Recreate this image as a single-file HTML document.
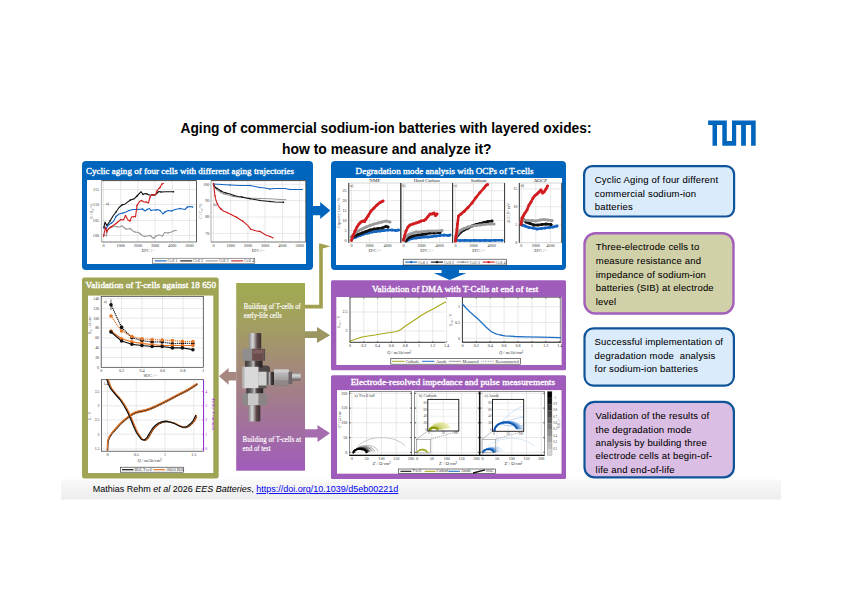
<!DOCTYPE html>
<html><head><meta charset="utf-8">
<style>
html,body{margin:0;padding:0;background:#fff;}
body{width:842px;height:595px;overflow:hidden;position:relative;font-family:"Liberation Sans",sans-serif;}
svg{position:absolute;left:0;top:0;}
.tt{font-family:"Liberation Serif",serif;font-weight:normal;fill:#fff;stroke:#fff;stroke-width:0.35px;}
.bx{font-family:"Liberation Sans",sans-serif;font-size:9.5px;fill:#000;letter-spacing:0.18px;stroke:#000;stroke-width:0.06px;}
</style></head><body>
<svg width="842" height="595" viewBox="0 0 842 595">
<defs>
<linearGradient id="foot" x1="0" y1="0" x2="0" y2="1"><stop offset="0" stop-color="#f9f9f9"/><stop offset="1" stop-color="#ededed"/></linearGradient>
<linearGradient id="mid" x1="0" y1="0" x2="0" y2="1"><stop offset="0" stop-color="#a1ab4e"/><stop offset="0.22" stop-color="#a29f61"/><stop offset="0.45" stop-color="#a38a79"/><stop offset="0.7" stop-color="#a27596"/><stop offset="1" stop-color="#a05cbb"/></linearGradient>
<linearGradient id="steelV" x1="0" y1="0" x2="1" y2="0"><stop offset="0" stop-color="#6d6a68"/><stop offset="0.25" stop-color="#d9d9d9"/><stop offset="0.5" stop-color="#f2f2f2"/><stop offset="0.8" stop-color="#8a8583"/><stop offset="1" stop-color="#3d3a3a"/></linearGradient>
<linearGradient id="steelH" x1="0" y1="0" x2="0" y2="1"><stop offset="0" stop-color="#6d6a68"/><stop offset="0.3" stop-color="#dcdcdc"/><stop offset="0.55" stop-color="#efefef"/><stop offset="0.85" stop-color="#858080"/><stop offset="1" stop-color="#3d3a3a"/></linearGradient>
<linearGradient id="nutV" x1="0" y1="0" x2="1" y2="0"><stop offset="0" stop-color="#5a5656"/><stop offset="0.15" stop-color="#bdbdbd"/><stop offset="0.45" stop-color="#d8d8d8"/><stop offset="0.55" stop-color="#7a6c6c"/><stop offset="0.85" stop-color="#9a8a8a"/><stop offset="1" stop-color="#3e3838"/></linearGradient>
<linearGradient id="cbar" x1="0" y1="0" x2="0" y2="1"><stop offset="0" stop-color="#000"/><stop offset="1" stop-color="#d8d8d8"/></linearGradient>
</defs>

<rect x="61.1" y="479.5" width="720" height="20.1" fill="url(#foot)"/>
<text x="386" y="132.8" text-anchor="middle" font-family="Liberation Sans" font-weight="bold" font-size="13.8" fill="#000" textLength="411" lengthAdjust="spacingAndGlyphs">Aging of commercial sodium-ion batteries with layered oxides:</text>
<text x="386.8" y="153.5" text-anchor="middle" font-family="Liberation Sans" font-weight="bold" font-size="13.8" fill="#000" textLength="209.6" lengthAdjust="spacingAndGlyphs">how to measure and analyze it?</text>
<path fill="#0065BD" d="M708.1,120.4H726.8V140.9H732V120.4H755.7V145.7H751.1V125.1H745.9V145.7H741.1V125.1H736.2V145.7H722.3V125.1H717V145.7H712.5V125.1H708.1Z"/>
<rect x="82" y="161" width="231" height="109" rx="4" fill="#0065BD"/>
<rect x="87" y="180" width="219" height="84" fill="#fff"/>
<text class="tt" x="86" y="173.5" font-size="8.9" textLength="208" lengthAdjust="spacingAndGlyphs">Cyclic aging of four cells with different aging trajectories</text>
<path fill="#0065BD" d="M313,206H320.2V202L330.3,210.6L320.2,219V215.2H313Z"/>
<rect x="331" y="161" width="235" height="109" rx="4" fill="#0065BD"/>
<rect x="336" y="178" width="226" height="87" fill="#fff"/>
<text class="tt" x="355.6" y="173.8" font-size="8.9" textLength="178" lengthAdjust="spacingAndGlyphs">Degradation mode analysis with OCPs of T-cells</text>
<path fill="#0065BD" d="M441.6,269H459V273H466.5L449.6,280L433.8,273H441.6Z"/>
<rect x="331" y="280.2" width="235" height="90" rx="1.5" fill="#A05CBA"/>
<rect x="336.3" y="297" width="225.3" height="68" fill="#fff"/>
<text class="tt" x="371.9" y="291.6" font-size="8.9" textLength="166.5" lengthAdjust="spacingAndGlyphs">Validation of DMA with T-Cells at end of test</text>
<rect x="331" y="375.3" width="235" height="103.6" rx="1.5" fill="#A05CBA"/>
<rect x="337" y="390.1" width="224.5" height="83.6" fill="#fff"/>
<text class="tt" x="350.7" y="384.6" font-size="8.9" textLength="204.3" lengthAdjust="spacingAndGlyphs">Electrode-resolved impedance and pulse measurements</text>
<rect x="82" y="277.4" width="136.7" height="201.2" rx="2.5" fill="#A0A556"/>
<rect x="88" y="295.6" width="125.3" height="177.4" fill="#fff"/>
<text class="tt" x="85.6" y="288" font-size="8.9" textLength="130.4" lengthAdjust="spacingAndGlyphs">Validation of T-cells against 18 650</text>
<rect x="236.2" y="283" width="68.8" height="187.7" fill="url(#mid)"/>
<text x="243.8" y="308.5" font-family="Liberation Serif" font-size="7.2" fill="#fff" stroke="#fff" stroke-width="0.15" textLength="57" lengthAdjust="spacingAndGlyphs">Building of T-cells of</text>
<text x="243.8" y="318.0" font-family="Liberation Serif" font-size="7.2" fill="#fff" stroke="#fff" stroke-width="0.15" textLength="38" lengthAdjust="spacingAndGlyphs">early-life cells</text>
<text x="242.6" y="442.2" font-family="Liberation Serif" font-size="7.2" fill="#fff" stroke="#fff" stroke-width="0.15" textLength="58.5" lengthAdjust="spacingAndGlyphs">Building of  T-cells at</text>
<text x="242.6" y="451.0" font-family="Liberation Serif" font-size="7.2" fill="#fff" stroke="#fff" stroke-width="0.15" textLength="28" lengthAdjust="spacingAndGlyphs">end of test</text>
<path fill="none" stroke="#A0A04E" stroke-width="3.6" d="M305,306.6H321V246.3H323"/>
<path fill="#A0A04E" d="M319.2,243.3L330.5,246.3L319.2,249.6Z"/>
<path fill="#9C9662" d="M305,331.3H317V327.1L330.1,335.3L317,342.9V338.1H305Z"/>
<path fill="#A66DAE" d="M305,429.3H317.5V424.9L330,433.2L317.5,442V437.5H305Z"/>
<path fill="#A68880" d="M236.2,372.1H228.6V368.1L219,376.3L228.6,384.7V380.4H236.2Z"/>
<rect x="584.1" y="166.2" width="150" height="50.3" rx="8" fill="#DAEBFB" stroke="#0F5499" stroke-width="2.2"/>
<rect x="584.5" y="233.2" width="149" height="80.3" rx="11" fill="#D1D1A9" stroke="#A35FBC" stroke-width="2.4"/>
<rect x="584.5" y="328.4" width="149.4" height="57.2" rx="9" fill="#DAEBFB" stroke="#0F5499" stroke-width="2.2"/>
<rect x="584.5" y="401.8" width="149.4" height="75.5" rx="10" fill="#DBBEE3" stroke="#0F5499" stroke-width="2.2"/>
<text class="bx" x="594.8" y="183.2" >Cyclic Aging of four different</text>
<text class="bx" x="594.8" y="196.7" >commercial sodium-ion</text>
<text class="bx" x="594.8" y="209.5" >batteries</text>
<text class="bx" x="595.8" y="249.6" >Three-electrode cells to</text>
<text class="bx" x="595.8" y="263.8" >measure resistance and</text>
<text class="bx" x="595.8" y="277.5" >impedance of sodium-ion</text>
<text class="bx" x="595.8" y="291" >batteries (SIB) at electrode</text>
<text class="bx" x="595.8" y="304.7" >level</text>
<text class="bx" x="594.6" y="344.6" >Successful implementation of</text>
<text class="bx" x="594.6" y="358.8" >degradation mode&#160; analysis</text>
<text class="bx" x="594.6" y="371.5" >for sodium-ion batteries</text>
<text class="bx" x="595.6" y="418.6" >Validation of the results of</text>
<text class="bx" x="595.6" y="432.8" >the degradation mode</text>
<text class="bx" x="595.6" y="445.5" >analysis by building three</text>
<text class="bx" x="595.6" y="459.2" >electrode cells at begin-of-</text>
<text class="bx" x="595.6" y="473.3" >life and end-of-life</text>
<text x="92.8" y="492.1" font-size="9.3" font-family="Liberation Sans" fill="#000" textLength="305.5" lengthAdjust="spacingAndGlyphs">Mathias Rehm <tspan font-style="italic">et al</tspan> 2026 <tspan font-style="italic">EES Batteries</tspan>, <tspan fill="#0000EE" text-decoration="underline">https://doi.org/10.1039/d5eb00221d</tspan></text>
<line x1="103.5" y1="180.6" x2="103.5" y2="242.0" stroke="#d2d2d2" stroke-width="0.5"/>
<line x1="120.7" y1="180.6" x2="120.7" y2="242.0" stroke="#d2d2d2" stroke-width="0.5"/>
<line x1="137.9" y1="180.6" x2="137.9" y2="242.0" stroke="#d2d2d2" stroke-width="0.5"/>
<line x1="155.0" y1="180.6" x2="155.0" y2="242.0" stroke="#d2d2d2" stroke-width="0.5"/>
<line x1="172.2" y1="180.6" x2="172.2" y2="242.0" stroke="#d2d2d2" stroke-width="0.5"/>
<line x1="189.4" y1="180.6" x2="189.4" y2="242.0" stroke="#d2d2d2" stroke-width="0.5"/>
<line x1="101.5" y1="235.4" x2="196.5" y2="235.4" stroke="#d2d2d2" stroke-width="0.5"/>
<line x1="101.5" y1="220.4" x2="196.5" y2="220.4" stroke="#d2d2d2" stroke-width="0.5"/>
<line x1="101.5" y1="204.4" x2="196.5" y2="204.4" stroke="#d2d2d2" stroke-width="0.5"/>
<line x1="101.5" y1="189.5" x2="196.5" y2="189.5" stroke="#d2d2d2" stroke-width="0.5"/>
<line x1="101.5" y1="180.6" x2="101.5" y2="242.0" stroke="#bbb" stroke-width="1.2"/>
<line x1="101.5" y1="180.6" x2="196.5" y2="180.6" stroke="#333" stroke-width="0.9"/>
<line x1="196.5" y1="180.6" x2="196.5" y2="242.0" stroke="#333" stroke-width="0.8"/>
<line x1="101.5" y1="242.0" x2="196.5" y2="242.0" stroke="#555" stroke-width="0.8"/>
<text x="99.0" y="236.7" font-size="4.10" font-family="Liberation Serif" fill="#333" text-anchor="end" >100</text>
<text x="99.0" y="221.7" font-size="4.10" font-family="Liberation Serif" fill="#333" text-anchor="end" >105</text>
<text x="99.0" y="205.7" font-size="4.10" font-family="Liberation Serif" fill="#333" text-anchor="end" >110</text>
<text x="99.0" y="190.8" font-size="4.10" font-family="Liberation Serif" fill="#333" text-anchor="end" >115</text>
<text x="103.5" y="247.3" font-size="4.10" font-family="Liberation Serif" fill="#333" text-anchor="middle" >0</text>
<text x="120.7" y="247.3" font-size="4.10" font-family="Liberation Serif" fill="#333" text-anchor="middle" >1000</text>
<text x="137.9" y="247.3" font-size="4.10" font-family="Liberation Serif" fill="#333" text-anchor="middle" >2000</text>
<text x="155.0" y="247.3" font-size="4.10" font-family="Liberation Serif" fill="#333" text-anchor="middle" >3000</text>
<text x="172.2" y="247.3" font-size="4.10" font-family="Liberation Serif" fill="#333" text-anchor="middle" >4000</text>
<text x="189.4" y="247.3" font-size="4.10" font-family="Liberation Serif" fill="#333" text-anchor="middle" >5000</text>
<text x="148.0" y="252.4" font-size="4.33" font-family="Liberation Serif" fill="#333" text-anchor="middle" >EFC / -</text>
<text x="0" y="0" font-size="3.8" font-family="Liberation Serif" fill="#555" text-anchor="middle" transform="translate(92.6,211) rotate(-90)">R / R&#8320; / %</text>
<text x="106.0" y="205.0" font-size="4.10" font-family="Liberation Serif" fill="#333" text-anchor="start" >a)</text>
<polyline fill="none" stroke="#9a9a9a" stroke-width="1.1" stroke-linejoin="round" stroke-linecap="round" points="104.0,235.0 106.5,236.0 107.0,230.0 109.0,228.0 112.0,227.0 115.0,226.0 117.5,227.0 119.5,227.0 122.0,226.0 124.0,227.5 126.0,229.0 128.0,229.0 130.0,228.5 133.0,231.0 135.0,232.0 138.0,232.5 140.0,233.5 142.0,235.5 144.5,236.5 147.0,236.0 150.0,235.5 153.5,238.5 156.0,236.0 159.0,235.0 162.5,236.0 164.5,232.5 168.0,233.0 171.5,232.0 174.5,230.5 176.5,230.5" />
<circle cx="104.0" cy="235.0" r="0.75" fill="#9a9a9a"/>
<circle cx="107.0" cy="230.0" r="0.75" fill="#9a9a9a"/>
<circle cx="112.0" cy="227.0" r="0.75" fill="#9a9a9a"/>
<circle cx="117.5" cy="227.0" r="0.75" fill="#9a9a9a"/>
<circle cx="122.0" cy="226.0" r="0.75" fill="#9a9a9a"/>
<circle cx="126.0" cy="229.0" r="0.75" fill="#9a9a9a"/>
<circle cx="130.0" cy="228.5" r="0.75" fill="#9a9a9a"/>
<circle cx="135.0" cy="232.0" r="0.75" fill="#9a9a9a"/>
<circle cx="140.0" cy="233.5" r="0.75" fill="#9a9a9a"/>
<circle cx="144.5" cy="236.5" r="0.75" fill="#9a9a9a"/>
<circle cx="150.0" cy="235.5" r="0.75" fill="#9a9a9a"/>
<circle cx="156.0" cy="236.0" r="0.75" fill="#9a9a9a"/>
<circle cx="162.5" cy="236.0" r="0.75" fill="#9a9a9a"/>
<circle cx="168.0" cy="233.0" r="0.75" fill="#9a9a9a"/>
<circle cx="174.5" cy="230.5" r="0.75" fill="#9a9a9a"/>
<polyline fill="none" stroke="#1565c0" stroke-width="1.1" stroke-linejoin="round" stroke-linecap="round" points="104.0,228.0 106.0,229.0 107.5,226.0 109.0,224.5 111.5,223.0 113.5,221.5 116.0,216.5 119.0,214.0 123.0,213.0 126.0,212.0 129.0,210.5 133.0,209.5 137.0,209.5 140.0,209.2 142.5,209.0 145.0,211.0 147.0,209.5 149.5,208.5 151.0,210.5 153.0,210.0 156.0,210.0 157.5,209.5 160.0,210.5 163.0,214.0 165.0,212.0 168.0,210.5 171.5,211.0 175.0,209.5 180.0,208.5 185.0,209.5 187.5,207.0 190.0,206.5 192.5,207.0" />
<circle cx="104.0" cy="228.0" r="0.75" fill="#1565c0"/>
<circle cx="107.5" cy="226.0" r="0.75" fill="#1565c0"/>
<circle cx="111.5" cy="223.0" r="0.75" fill="#1565c0"/>
<circle cx="116.0" cy="216.5" r="0.75" fill="#1565c0"/>
<circle cx="123.0" cy="213.0" r="0.75" fill="#1565c0"/>
<circle cx="129.0" cy="210.5" r="0.75" fill="#1565c0"/>
<circle cx="137.0" cy="209.5" r="0.75" fill="#1565c0"/>
<circle cx="142.5" cy="209.0" r="0.75" fill="#1565c0"/>
<circle cx="147.0" cy="209.5" r="0.75" fill="#1565c0"/>
<circle cx="151.0" cy="210.5" r="0.75" fill="#1565c0"/>
<circle cx="156.0" cy="210.0" r="0.75" fill="#1565c0"/>
<circle cx="160.0" cy="210.5" r="0.75" fill="#1565c0"/>
<circle cx="165.0" cy="212.0" r="0.75" fill="#1565c0"/>
<circle cx="171.5" cy="211.0" r="0.75" fill="#1565c0"/>
<circle cx="180.0" cy="208.5" r="0.75" fill="#1565c0"/>
<circle cx="187.5" cy="207.0" r="0.75" fill="#1565c0"/>
<circle cx="192.5" cy="207.0" r="0.75" fill="#1565c0"/>
<polyline fill="none" stroke="#111" stroke-width="1.1" stroke-linejoin="round" stroke-linecap="round" points="104.0,227.0 105.0,222.0 106.5,225.0 107.6,224.5 110.0,221.0 113.0,216.0 116.0,212.0 119.0,207.5 122.0,205.0 125.2,203.9 130.4,200.0 134.1,198.9 137.0,196.0 141.1,191.7 143.0,194.5 145.0,193.5 147.0,194.0 149.0,195.0 153.0,195.0 155.5,195.0 157.0,193.0 159.0,191.5 161.0,192.0 166.0,191.8 173.5,191.8" />
<circle cx="104.0" cy="227.0" r="0.75" fill="#111"/>
<circle cx="106.5" cy="225.0" r="0.75" fill="#111"/>
<circle cx="110.0" cy="221.0" r="0.75" fill="#111"/>
<circle cx="116.0" cy="212.0" r="0.75" fill="#111"/>
<circle cx="122.0" cy="205.0" r="0.75" fill="#111"/>
<circle cx="130.4" cy="200.0" r="0.75" fill="#111"/>
<circle cx="137.0" cy="196.0" r="0.75" fill="#111"/>
<circle cx="143.0" cy="194.5" r="0.75" fill="#111"/>
<circle cx="147.0" cy="194.0" r="0.75" fill="#111"/>
<circle cx="153.0" cy="195.0" r="0.75" fill="#111"/>
<circle cx="157.0" cy="193.0" r="0.75" fill="#111"/>
<circle cx="161.0" cy="192.0" r="0.75" fill="#111"/>
<circle cx="173.5" cy="191.8" r="0.75" fill="#111"/>
<polyline fill="none" stroke="#d01c1f" stroke-width="1.1" stroke-linejoin="round" stroke-linecap="round" points="103.6,236.0 105.5,227.0 106.7,232.0 108.5,229.0 111.0,227.0 114.0,225.0 116.0,223.5 119.0,221.0 121.0,219.5 123.5,220.0 125.5,215.5 128.0,220.0 130.0,221.0 131.5,217.0 133.5,216.5 135.5,217.0 137.0,205.5 139.5,201.5 141.5,200.5 144.0,202.0 146.0,202.0 148.5,203.0 150.0,197.0 152.0,194.5 154.0,195.0 156.0,194.0 157.0,191.0 158.5,189.0 160.0,187.5 161.0,185.5 162.0,184.0 163.5,183.5" />
<circle cx="103.6" cy="236.0" r="0.75" fill="#d01c1f"/>
<circle cx="106.7" cy="232.0" r="0.75" fill="#d01c1f"/>
<circle cx="111.0" cy="227.0" r="0.75" fill="#d01c1f"/>
<circle cx="116.0" cy="223.5" r="0.75" fill="#d01c1f"/>
<circle cx="121.0" cy="219.5" r="0.75" fill="#d01c1f"/>
<circle cx="125.5" cy="215.5" r="0.75" fill="#d01c1f"/>
<circle cx="130.0" cy="221.0" r="0.75" fill="#d01c1f"/>
<circle cx="133.5" cy="216.5" r="0.75" fill="#d01c1f"/>
<circle cx="137.0" cy="205.5" r="0.75" fill="#d01c1f"/>
<circle cx="141.5" cy="200.5" r="0.75" fill="#d01c1f"/>
<circle cx="146.0" cy="202.0" r="0.75" fill="#d01c1f"/>
<circle cx="150.0" cy="197.0" r="0.75" fill="#d01c1f"/>
<circle cx="154.0" cy="195.0" r="0.75" fill="#d01c1f"/>
<circle cx="157.0" cy="191.0" r="0.75" fill="#d01c1f"/>
<circle cx="160.0" cy="187.5" r="0.75" fill="#d01c1f"/>
<circle cx="162.0" cy="184.0" r="0.75" fill="#d01c1f"/>
<line x1="213.4" y1="180.6" x2="213.4" y2="242.0" stroke="#d2d2d2" stroke-width="0.5"/>
<line x1="230.6" y1="180.6" x2="230.6" y2="242.0" stroke="#d2d2d2" stroke-width="0.5"/>
<line x1="247.9" y1="180.6" x2="247.9" y2="242.0" stroke="#d2d2d2" stroke-width="0.5"/>
<line x1="265.1" y1="180.6" x2="265.1" y2="242.0" stroke="#d2d2d2" stroke-width="0.5"/>
<line x1="282.4" y1="180.6" x2="282.4" y2="242.0" stroke="#d2d2d2" stroke-width="0.5"/>
<line x1="299.6" y1="180.6" x2="299.6" y2="242.0" stroke="#d2d2d2" stroke-width="0.5"/>
<line x1="211.0" y1="184.3" x2="305.8" y2="184.3" stroke="#d2d2d2" stroke-width="0.5"/>
<line x1="211.0" y1="200.6" x2="305.8" y2="200.6" stroke="#d2d2d2" stroke-width="0.5"/>
<line x1="211.0" y1="217.0" x2="305.8" y2="217.0" stroke="#d2d2d2" stroke-width="0.5"/>
<line x1="211.0" y1="233.4" x2="305.8" y2="233.4" stroke="#d2d2d2" stroke-width="0.5"/>
<line x1="211.0" y1="180.6" x2="211.0" y2="242.0" stroke="#bbb" stroke-width="1.2"/>
<line x1="211.0" y1="180.6" x2="305.8" y2="180.6" stroke="#333" stroke-width="0.9"/>
<line x1="305.8" y1="180.6" x2="305.8" y2="242.0" stroke="#333" stroke-width="0.8"/>
<line x1="211.0" y1="242.0" x2="305.8" y2="242.0" stroke="#555" stroke-width="0.8"/>
<text x="209.3" y="185.6" font-size="4.10" font-family="Liberation Serif" fill="#333" text-anchor="end" >100</text>
<text x="209.3" y="201.9" font-size="4.10" font-family="Liberation Serif" fill="#333" text-anchor="end" >90</text>
<text x="209.3" y="218.3" font-size="4.10" font-family="Liberation Serif" fill="#333" text-anchor="end" >80</text>
<text x="209.3" y="234.7" font-size="4.10" font-family="Liberation Serif" fill="#333" text-anchor="end" >70</text>
<text x="213.4" y="247.3" font-size="4.10" font-family="Liberation Serif" fill="#333" text-anchor="middle" >0</text>
<text x="230.6" y="247.3" font-size="4.10" font-family="Liberation Serif" fill="#333" text-anchor="middle" >1000</text>
<text x="247.9" y="247.3" font-size="4.10" font-family="Liberation Serif" fill="#333" text-anchor="middle" >2000</text>
<text x="265.1" y="247.3" font-size="4.10" font-family="Liberation Serif" fill="#333" text-anchor="middle" >3000</text>
<text x="282.4" y="247.3" font-size="4.10" font-family="Liberation Serif" fill="#333" text-anchor="middle" >4000</text>
<text x="299.6" y="247.3" font-size="4.10" font-family="Liberation Serif" fill="#333" text-anchor="middle" >5000</text>
<text x="258.0" y="252.4" font-size="4.33" font-family="Liberation Serif" fill="#333" text-anchor="middle" >EFC / -</text>
<text x="0" y="0" font-size="3.8" font-family="Liberation Serif" fill="#555" text-anchor="middle" transform="translate(201.5,211) rotate(-90)">C / C&#8320; / %</text>
<text x="213.5" y="206.0" font-size="4.10" font-family="Liberation Serif" fill="#333" text-anchor="start" >b)</text>
<polyline fill="none" stroke="#9a9a9a" stroke-width="1.1" stroke-linejoin="round" stroke-linecap="round" points="213.5,185.0 215.0,188.0 218.0,190.5 221.0,192.5 224.0,194.0 228.0,195.0 233.0,196.5 238.0,197.0 244.0,197.5 250.0,198.0 260.0,198.5 270.0,198.8 280.0,199.5 286.0,199.8" />
<circle cx="213.5" cy="185.0" r="0.75" fill="#9a9a9a"/>
<circle cx="218.0" cy="190.5" r="0.75" fill="#9a9a9a"/>
<circle cx="224.0" cy="194.0" r="0.75" fill="#9a9a9a"/>
<circle cx="233.0" cy="196.5" r="0.75" fill="#9a9a9a"/>
<circle cx="244.0" cy="197.5" r="0.75" fill="#9a9a9a"/>
<circle cx="260.0" cy="198.5" r="0.75" fill="#9a9a9a"/>
<circle cx="280.0" cy="199.5" r="0.75" fill="#9a9a9a"/>
<polyline fill="none" stroke="#111" stroke-width="1.1" stroke-linejoin="round" stroke-linecap="round" points="213.5,184.0 215.0,187.0 217.0,188.5 219.0,189.5 221.0,191.0 223.0,192.0 226.0,193.0 230.0,194.0 234.0,195.5 238.0,196.5 242.0,197.0 246.0,198.0 250.0,198.8 255.0,199.5 260.0,200.5 265.0,201.0 270.0,201.5 275.0,202.0 283.5,202.2" />
<circle cx="213.5" cy="184.0" r="0.75" fill="#111"/>
<circle cx="217.0" cy="188.5" r="0.75" fill="#111"/>
<circle cx="221.0" cy="191.0" r="0.75" fill="#111"/>
<circle cx="226.0" cy="193.0" r="0.75" fill="#111"/>
<circle cx="234.0" cy="195.5" r="0.75" fill="#111"/>
<circle cx="242.0" cy="197.0" r="0.75" fill="#111"/>
<circle cx="250.0" cy="198.8" r="0.75" fill="#111"/>
<circle cx="260.0" cy="200.5" r="0.75" fill="#111"/>
<circle cx="270.0" cy="201.5" r="0.75" fill="#111"/>
<circle cx="283.5" cy="202.2" r="0.75" fill="#111"/>
<polyline fill="none" stroke="#1565c0" stroke-width="1.1" stroke-linejoin="round" stroke-linecap="round" points="213.5,184.0 222.0,184.5 230.0,185.0 240.0,185.5 250.0,185.5 255.0,186.5 260.0,187.5 265.0,188.0 270.0,189.0 275.0,188.5 280.0,188.5 285.0,188.5 290.0,189.5 295.0,189.5 302.0,189.5" />
<circle cx="213.5" cy="184.0" r="0.75" fill="#1565c0"/>
<circle cx="230.0" cy="185.0" r="0.75" fill="#1565c0"/>
<circle cx="250.0" cy="185.5" r="0.75" fill="#1565c0"/>
<circle cx="260.0" cy="187.5" r="0.75" fill="#1565c0"/>
<circle cx="270.0" cy="189.0" r="0.75" fill="#1565c0"/>
<circle cx="280.0" cy="188.5" r="0.75" fill="#1565c0"/>
<circle cx="290.0" cy="189.5" r="0.75" fill="#1565c0"/>
<circle cx="302.0" cy="189.5" r="0.75" fill="#1565c0"/>
<polyline fill="none" stroke="#d01c1f" stroke-width="1.1" stroke-linejoin="round" stroke-linecap="round" points="213.5,183.5 214.3,190.0 215.0,196.0 216.0,200.5 217.5,204.0 219.0,207.0 221.0,209.0 223.5,211.0 227.0,212.5 232.0,215.0 236.5,217.3 240.0,219.5 243.0,221.3 247.7,225.3 250.8,229.3 255.6,230.8 260.4,231.6 265.2,234.8 270.0,236.4 273.2,238.0" />
<circle cx="213.5" cy="183.5" r="0.75" fill="#d01c1f"/>
<circle cx="215.0" cy="196.0" r="0.75" fill="#d01c1f"/>
<circle cx="217.5" cy="204.0" r="0.75" fill="#d01c1f"/>
<circle cx="221.0" cy="209.0" r="0.75" fill="#d01c1f"/>
<circle cx="227.0" cy="212.5" r="0.75" fill="#d01c1f"/>
<circle cx="236.5" cy="217.3" r="0.75" fill="#d01c1f"/>
<circle cx="243.0" cy="221.3" r="0.75" fill="#d01c1f"/>
<circle cx="250.8" cy="229.3" r="0.75" fill="#d01c1f"/>
<circle cx="260.4" cy="231.6" r="0.75" fill="#d01c1f"/>
<circle cx="270.0" cy="236.4" r="0.75" fill="#d01c1f"/>
<rect x="152.6" y="258.2" width="102.2" height="5.4" fill="#fff" stroke="#333" stroke-width="0.5"/>
<line x1="154.6" y1="260.9" x2="166.6" y2="260.9" stroke="#1565c0" stroke-width="1.1"/>
<text x="167.6" y="262.2" font-size="4.10" font-family="Liberation Serif" fill="#333" text-anchor="start" >Cell 1</text>
<line x1="180.2" y1="260.9" x2="192.2" y2="260.9" stroke="#111" stroke-width="1.1"/>
<text x="193.2" y="262.2" font-size="4.10" font-family="Liberation Serif" fill="#333" text-anchor="start" >Cell 2</text>
<line x1="205.7" y1="260.9" x2="217.7" y2="260.9" stroke="#9a9a9a" stroke-width="1.1"/>
<text x="218.7" y="262.2" font-size="4.10" font-family="Liberation Serif" fill="#333" text-anchor="start" >Cell 3</text>
<line x1="231.2" y1="260.9" x2="243.2" y2="260.9" stroke="#d01c1f" stroke-width="1.1"/>
<text x="244.2" y="262.2" font-size="4.10" font-family="Liberation Serif" fill="#333" text-anchor="start" >Cell 4</text>
<line x1="351.5" y1="183.0" x2="351.5" y2="242.8" stroke="#d2d2d2" stroke-width="0.5"/>
<line x1="369.5" y1="183.0" x2="369.5" y2="242.8" stroke="#d2d2d2" stroke-width="0.5"/>
<line x1="387.5" y1="183.0" x2="387.5" y2="242.8" stroke="#d2d2d2" stroke-width="0.5"/>
<line x1="348.8" y1="230.3" x2="400.8" y2="230.3" stroke="#d2d2d2" stroke-width="0.5"/>
<line x1="348.8" y1="220.4" x2="400.8" y2="220.4" stroke="#d2d2d2" stroke-width="0.5"/>
<line x1="348.8" y1="210.5" x2="400.8" y2="210.5" stroke="#d2d2d2" stroke-width="0.5"/>
<line x1="348.8" y1="200.6" x2="400.8" y2="200.6" stroke="#d2d2d2" stroke-width="0.5"/>
<line x1="348.8" y1="190.7" x2="400.8" y2="190.7" stroke="#d2d2d2" stroke-width="0.5"/>
<rect x="348.8" y="183.0" width="52.0" height="59.8" fill="none" stroke="#bbb" stroke-width="0.6"/>
<line x1="348.8" y1="183.0" x2="348.8" y2="242.8" stroke="#222" stroke-width="0.9"/>
<line x1="400.8" y1="183.0" x2="400.8" y2="242.8" stroke="#222" stroke-width="0.9"/>
<text x="351.5" y="247.3" font-size="4.10" font-family="Liberation Serif" fill="#333" text-anchor="middle" >0</text>
<text x="369.5" y="247.3" font-size="4.10" font-family="Liberation Serif" fill="#333" text-anchor="middle" >2000</text>
<text x="387.5" y="247.3" font-size="4.10" font-family="Liberation Serif" fill="#333" text-anchor="middle" >4000</text>
<text x="374.8" y="252.2" font-size="4.33" font-family="Liberation Serif" fill="#333" text-anchor="middle" >EFC / -</text>
<text x="374.8" y="181.8" font-size="5.02" font-family="Liberation Serif" fill="#222" text-anchor="middle" >NMP</text>
<text x="350.3" y="187.0" font-size="3.88" font-family="Liberation Serif" fill="#333" text-anchor="start" >a)</text>
<polyline fill="none" stroke="#1565c0" stroke-width="2.6" stroke-linejoin="round" stroke-linecap="round" points="353.0,238.0 356.0,237.0 360.0,235.5 364.0,234.0 368.0,233.0 372.0,232.0 376.0,231.5 380.0,231.0 384.0,230.5 388.0,230.0 392.0,230.0 396.0,230.5 398.5,230.0" />
<circle cx="353.0" cy="238.0" r="1.5" fill="#1565c0"/>
<circle cx="356.0" cy="237.0" r="1.5" fill="#1565c0"/>
<circle cx="360.0" cy="235.5" r="1.5" fill="#1565c0"/>
<circle cx="364.0" cy="234.0" r="1.5" fill="#1565c0"/>
<circle cx="368.0" cy="233.0" r="1.5" fill="#1565c0"/>
<circle cx="372.0" cy="232.0" r="1.5" fill="#1565c0"/>
<circle cx="376.0" cy="231.5" r="1.5" fill="#1565c0"/>
<circle cx="380.0" cy="231.0" r="1.5" fill="#1565c0"/>
<circle cx="384.0" cy="230.5" r="1.5" fill="#1565c0"/>
<circle cx="388.0" cy="230.0" r="1.5" fill="#1565c0"/>
<circle cx="392.0" cy="230.0" r="1.5" fill="#1565c0"/>
<circle cx="396.0" cy="230.5" r="1.5" fill="#1565c0"/>
<circle cx="398.5" cy="230.0" r="1.5" fill="#1565c0"/>
<polyline fill="none" stroke="#111" stroke-width="2.6" stroke-linejoin="round" stroke-linecap="round" points="352.0,237.0 355.0,236.0 358.0,234.5 362.0,233.0 366.0,231.5 370.0,230.0 374.0,229.0 378.0,228.5 382.0,228.0 386.0,226.5 388.0,227.0" />
<circle cx="352.0" cy="237.0" r="1.5" fill="#111"/>
<circle cx="355.0" cy="236.0" r="1.5" fill="#111"/>
<circle cx="358.0" cy="234.5" r="1.5" fill="#111"/>
<circle cx="362.0" cy="233.0" r="1.5" fill="#111"/>
<circle cx="366.0" cy="231.5" r="1.5" fill="#111"/>
<circle cx="370.0" cy="230.0" r="1.5" fill="#111"/>
<circle cx="374.0" cy="229.0" r="1.5" fill="#111"/>
<circle cx="378.0" cy="228.5" r="1.5" fill="#111"/>
<circle cx="382.0" cy="228.0" r="1.5" fill="#111"/>
<circle cx="386.0" cy="226.5" r="1.5" fill="#111"/>
<circle cx="388.0" cy="227.0" r="1.5" fill="#111"/>
<polyline fill="none" stroke="#9a9a9a" stroke-width="2.6" stroke-linejoin="round" stroke-linecap="round" points="352.0,236.0 355.0,233.0 358.0,231.0 362.0,229.0 366.0,227.0 370.0,225.5 374.0,224.0 378.0,223.0 382.0,222.0 386.0,221.0 390.0,222.0" />
<circle cx="352.0" cy="236.0" r="1.5" fill="#9a9a9a"/>
<circle cx="355.0" cy="233.0" r="1.5" fill="#9a9a9a"/>
<circle cx="358.0" cy="231.0" r="1.5" fill="#9a9a9a"/>
<circle cx="362.0" cy="229.0" r="1.5" fill="#9a9a9a"/>
<circle cx="366.0" cy="227.0" r="1.5" fill="#9a9a9a"/>
<circle cx="370.0" cy="225.5" r="1.5" fill="#9a9a9a"/>
<circle cx="374.0" cy="224.0" r="1.5" fill="#9a9a9a"/>
<circle cx="378.0" cy="223.0" r="1.5" fill="#9a9a9a"/>
<circle cx="382.0" cy="222.0" r="1.5" fill="#9a9a9a"/>
<circle cx="386.0" cy="221.0" r="1.5" fill="#9a9a9a"/>
<circle cx="390.0" cy="222.0" r="1.5" fill="#9a9a9a"/>
<polyline fill="none" stroke="#d01c1f" stroke-width="2.6" stroke-linejoin="round" stroke-linecap="round" points="351.5,240.2 353.0,236.0 355.0,231.0 357.0,227.0 359.0,224.0 361.0,222.0 363.0,221.0 364.5,221.5 366.0,219.0 368.0,216.0 371.0,211.0 374.0,208.0 377.0,205.0 380.0,202.5 383.0,201.0" />
<circle cx="351.5" cy="240.2" r="1.5" fill="#d01c1f"/>
<circle cx="353.0" cy="236.0" r="1.5" fill="#d01c1f"/>
<circle cx="355.0" cy="231.0" r="1.5" fill="#d01c1f"/>
<circle cx="357.0" cy="227.0" r="1.5" fill="#d01c1f"/>
<circle cx="359.0" cy="224.0" r="1.5" fill="#d01c1f"/>
<circle cx="361.0" cy="222.0" r="1.5" fill="#d01c1f"/>
<circle cx="363.0" cy="221.0" r="1.5" fill="#d01c1f"/>
<circle cx="364.5" cy="221.5" r="1.5" fill="#d01c1f"/>
<circle cx="366.0" cy="219.0" r="1.5" fill="#d01c1f"/>
<circle cx="368.0" cy="216.0" r="1.5" fill="#d01c1f"/>
<circle cx="371.0" cy="211.0" r="1.5" fill="#d01c1f"/>
<circle cx="374.0" cy="208.0" r="1.5" fill="#d01c1f"/>
<circle cx="377.0" cy="205.0" r="1.5" fill="#d01c1f"/>
<circle cx="380.0" cy="202.5" r="1.5" fill="#d01c1f"/>
<circle cx="383.0" cy="201.0" r="1.5" fill="#d01c1f"/>
<text x="346.5" y="241.5" font-size="4.10" font-family="Liberation Serif" fill="#333" text-anchor="end" >0</text>
<text x="346.5" y="231.6" font-size="4.10" font-family="Liberation Serif" fill="#333" text-anchor="end" >5</text>
<text x="346.5" y="221.7" font-size="4.10" font-family="Liberation Serif" fill="#333" text-anchor="end" >10</text>
<text x="346.5" y="211.8" font-size="4.10" font-family="Liberation Serif" fill="#333" text-anchor="end" >15</text>
<text x="346.5" y="201.9" font-size="4.10" font-family="Liberation Serif" fill="#333" text-anchor="end" >20</text>
<text x="346.5" y="192.0" font-size="4.10" font-family="Liberation Serif" fill="#333" text-anchor="end" >25</text>
<text x="0" y="0" font-size="4.2" font-family="Liberation Serif" fill="#555" text-anchor="middle" transform="translate(339.5,213) rotate(-90)">Capacity Loss / %</text>
<line x1="403.4" y1="183.0" x2="403.4" y2="242.8" stroke="#d2d2d2" stroke-width="0.5"/>
<line x1="421.5" y1="183.0" x2="421.5" y2="242.8" stroke="#d2d2d2" stroke-width="0.5"/>
<line x1="439.6" y1="183.0" x2="439.6" y2="242.8" stroke="#d2d2d2" stroke-width="0.5"/>
<line x1="400.8" y1="230.3" x2="452.6" y2="230.3" stroke="#d2d2d2" stroke-width="0.5"/>
<line x1="400.8" y1="220.4" x2="452.6" y2="220.4" stroke="#d2d2d2" stroke-width="0.5"/>
<line x1="400.8" y1="210.5" x2="452.6" y2="210.5" stroke="#d2d2d2" stroke-width="0.5"/>
<line x1="400.8" y1="200.6" x2="452.6" y2="200.6" stroke="#d2d2d2" stroke-width="0.5"/>
<line x1="400.8" y1="190.7" x2="452.6" y2="190.7" stroke="#d2d2d2" stroke-width="0.5"/>
<rect x="400.8" y="183.0" width="51.8" height="59.8" fill="none" stroke="#bbb" stroke-width="0.6"/>
<line x1="400.8" y1="183.0" x2="400.8" y2="242.8" stroke="#222" stroke-width="0.9"/>
<line x1="452.6" y1="183.0" x2="452.6" y2="242.8" stroke="#222" stroke-width="0.9"/>
<text x="403.4" y="247.3" font-size="4.10" font-family="Liberation Serif" fill="#333" text-anchor="middle" >0</text>
<text x="421.5" y="247.3" font-size="4.10" font-family="Liberation Serif" fill="#333" text-anchor="middle" >2000</text>
<text x="439.6" y="247.3" font-size="4.10" font-family="Liberation Serif" fill="#333" text-anchor="middle" >4000</text>
<text x="426.7" y="252.2" font-size="4.33" font-family="Liberation Serif" fill="#333" text-anchor="middle" >EFC / -</text>
<text x="426.7" y="181.8" font-size="5.02" font-family="Liberation Serif" fill="#222" text-anchor="middle" >Hard Carbon</text>
<text x="402.3" y="187.0" font-size="3.88" font-family="Liberation Serif" fill="#333" text-anchor="start" >b)</text>
<polyline fill="none" stroke="#1565c0" stroke-width="2.6" stroke-linejoin="round" stroke-linecap="round" points="404.0,239.0 408.0,240.0 412.0,238.5 416.0,238.0 420.0,237.5 424.0,237.0 428.0,237.0 432.0,236.5 436.0,236.0 440.0,235.5 444.0,235.0 448.0,235.5 450.0,235.0" />
<circle cx="404.0" cy="239.0" r="1.5" fill="#1565c0"/>
<circle cx="408.0" cy="240.0" r="1.5" fill="#1565c0"/>
<circle cx="412.0" cy="238.5" r="1.5" fill="#1565c0"/>
<circle cx="416.0" cy="238.0" r="1.5" fill="#1565c0"/>
<circle cx="420.0" cy="237.5" r="1.5" fill="#1565c0"/>
<circle cx="424.0" cy="237.0" r="1.5" fill="#1565c0"/>
<circle cx="428.0" cy="237.0" r="1.5" fill="#1565c0"/>
<circle cx="432.0" cy="236.5" r="1.5" fill="#1565c0"/>
<circle cx="436.0" cy="236.0" r="1.5" fill="#1565c0"/>
<circle cx="440.0" cy="235.5" r="1.5" fill="#1565c0"/>
<circle cx="444.0" cy="235.0" r="1.5" fill="#1565c0"/>
<circle cx="448.0" cy="235.5" r="1.5" fill="#1565c0"/>
<circle cx="450.0" cy="235.0" r="1.5" fill="#1565c0"/>
<polyline fill="none" stroke="#111" stroke-width="2.6" stroke-linejoin="round" stroke-linecap="round" points="406.0,241.0 408.0,238.0 410.0,237.0 413.0,236.0 418.0,235.0 422.0,234.5 426.0,234.0 430.0,233.0 434.0,233.0 438.0,232.5 440.0,232.5" />
<circle cx="406.0" cy="241.0" r="1.5" fill="#111"/>
<circle cx="408.0" cy="238.0" r="1.5" fill="#111"/>
<circle cx="410.0" cy="237.0" r="1.5" fill="#111"/>
<circle cx="413.0" cy="236.0" r="1.5" fill="#111"/>
<circle cx="418.0" cy="235.0" r="1.5" fill="#111"/>
<circle cx="422.0" cy="234.5" r="1.5" fill="#111"/>
<circle cx="426.0" cy="234.0" r="1.5" fill="#111"/>
<circle cx="430.0" cy="233.0" r="1.5" fill="#111"/>
<circle cx="434.0" cy="233.0" r="1.5" fill="#111"/>
<circle cx="438.0" cy="232.5" r="1.5" fill="#111"/>
<circle cx="440.0" cy="232.5" r="1.5" fill="#111"/>
<polyline fill="none" stroke="#9a9a9a" stroke-width="2.6" stroke-linejoin="round" stroke-linecap="round" points="404.0,240.0 406.0,237.0 408.0,235.0 410.0,234.0 413.0,233.0 416.0,232.0 420.0,232.0 424.0,231.5 428.0,231.0 432.0,231.0 436.0,231.0 442.0,230.5" />
<circle cx="404.0" cy="240.0" r="1.5" fill="#9a9a9a"/>
<circle cx="406.0" cy="237.0" r="1.5" fill="#9a9a9a"/>
<circle cx="408.0" cy="235.0" r="1.5" fill="#9a9a9a"/>
<circle cx="410.0" cy="234.0" r="1.5" fill="#9a9a9a"/>
<circle cx="413.0" cy="233.0" r="1.5" fill="#9a9a9a"/>
<circle cx="416.0" cy="232.0" r="1.5" fill="#9a9a9a"/>
<circle cx="420.0" cy="232.0" r="1.5" fill="#9a9a9a"/>
<circle cx="424.0" cy="231.5" r="1.5" fill="#9a9a9a"/>
<circle cx="428.0" cy="231.0" r="1.5" fill="#9a9a9a"/>
<circle cx="432.0" cy="231.0" r="1.5" fill="#9a9a9a"/>
<circle cx="436.0" cy="231.0" r="1.5" fill="#9a9a9a"/>
<circle cx="442.0" cy="230.5" r="1.5" fill="#9a9a9a"/>
<polyline fill="none" stroke="#d01c1f" stroke-width="2.6" stroke-linejoin="round" stroke-linecap="round" points="403.5,240.0 404.5,236.0 406.0,231.0 408.0,227.0 410.0,225.0 413.0,224.0 416.0,223.0 419.0,222.0 421.0,221.0 424.0,220.5 426.0,219.0 428.0,216.5 430.0,214.0 432.0,214.0 434.0,213.0 435.5,215.5 437.0,214.0" />
<circle cx="403.5" cy="240.0" r="1.5" fill="#d01c1f"/>
<circle cx="404.5" cy="236.0" r="1.5" fill="#d01c1f"/>
<circle cx="406.0" cy="231.0" r="1.5" fill="#d01c1f"/>
<circle cx="408.0" cy="227.0" r="1.5" fill="#d01c1f"/>
<circle cx="410.0" cy="225.0" r="1.5" fill="#d01c1f"/>
<circle cx="413.0" cy="224.0" r="1.5" fill="#d01c1f"/>
<circle cx="416.0" cy="223.0" r="1.5" fill="#d01c1f"/>
<circle cx="419.0" cy="222.0" r="1.5" fill="#d01c1f"/>
<circle cx="421.0" cy="221.0" r="1.5" fill="#d01c1f"/>
<circle cx="424.0" cy="220.5" r="1.5" fill="#d01c1f"/>
<circle cx="426.0" cy="219.0" r="1.5" fill="#d01c1f"/>
<circle cx="428.0" cy="216.5" r="1.5" fill="#d01c1f"/>
<circle cx="430.0" cy="214.0" r="1.5" fill="#d01c1f"/>
<circle cx="432.0" cy="214.0" r="1.5" fill="#d01c1f"/>
<circle cx="434.0" cy="213.0" r="1.5" fill="#d01c1f"/>
<circle cx="435.5" cy="215.5" r="1.5" fill="#d01c1f"/>
<circle cx="437.0" cy="214.0" r="1.5" fill="#d01c1f"/>
<line x1="455.4" y1="183.0" x2="455.4" y2="242.8" stroke="#d2d2d2" stroke-width="0.5"/>
<line x1="473.5" y1="183.0" x2="473.5" y2="242.8" stroke="#d2d2d2" stroke-width="0.5"/>
<line x1="491.6" y1="183.0" x2="491.6" y2="242.8" stroke="#d2d2d2" stroke-width="0.5"/>
<line x1="452.6" y1="230.3" x2="504.6" y2="230.3" stroke="#d2d2d2" stroke-width="0.5"/>
<line x1="452.6" y1="220.4" x2="504.6" y2="220.4" stroke="#d2d2d2" stroke-width="0.5"/>
<line x1="452.6" y1="210.5" x2="504.6" y2="210.5" stroke="#d2d2d2" stroke-width="0.5"/>
<line x1="452.6" y1="200.6" x2="504.6" y2="200.6" stroke="#d2d2d2" stroke-width="0.5"/>
<line x1="452.6" y1="190.7" x2="504.6" y2="190.7" stroke="#d2d2d2" stroke-width="0.5"/>
<rect x="452.6" y="183.0" width="52.0" height="59.8" fill="none" stroke="#bbb" stroke-width="0.6"/>
<line x1="452.6" y1="183.0" x2="452.6" y2="242.8" stroke="#222" stroke-width="0.9"/>
<line x1="504.6" y1="183.0" x2="504.6" y2="242.8" stroke="#222" stroke-width="0.9"/>
<text x="455.4" y="247.3" font-size="4.10" font-family="Liberation Serif" fill="#333" text-anchor="middle" >0</text>
<text x="473.5" y="247.3" font-size="4.10" font-family="Liberation Serif" fill="#333" text-anchor="middle" >2000</text>
<text x="491.6" y="247.3" font-size="4.10" font-family="Liberation Serif" fill="#333" text-anchor="middle" >4000</text>
<text x="478.6" y="252.2" font-size="4.33" font-family="Liberation Serif" fill="#333" text-anchor="middle" >EFC / -</text>
<text x="478.6" y="181.8" font-size="5.02" font-family="Liberation Serif" fill="#222" text-anchor="middle" >Sodium</text>
<text x="454.1" y="187.0" font-size="3.88" font-family="Liberation Serif" fill="#333" text-anchor="start" >c)</text>
<polyline fill="none" stroke="#1565c0" stroke-width="2.6" stroke-linejoin="round" stroke-linecap="round" points="455.5,240.3 460.0,240.5 465.0,240.3 470.0,240.5 475.0,240.3 480.0,240.5 485.0,240.3 490.0,240.5 495.0,240.3 502.0,240.3" />
<circle cx="455.5" cy="240.3" r="1.5" fill="#1565c0"/>
<circle cx="460.0" cy="240.5" r="1.5" fill="#1565c0"/>
<circle cx="465.0" cy="240.3" r="1.5" fill="#1565c0"/>
<circle cx="470.0" cy="240.5" r="1.5" fill="#1565c0"/>
<circle cx="475.0" cy="240.3" r="1.5" fill="#1565c0"/>
<circle cx="480.0" cy="240.5" r="1.5" fill="#1565c0"/>
<circle cx="485.0" cy="240.3" r="1.5" fill="#1565c0"/>
<circle cx="490.0" cy="240.5" r="1.5" fill="#1565c0"/>
<circle cx="495.0" cy="240.3" r="1.5" fill="#1565c0"/>
<circle cx="502.0" cy="240.3" r="1.5" fill="#1565c0"/>
<polyline fill="none" stroke="#111" stroke-width="2.6" stroke-linejoin="round" stroke-linecap="round" points="456.0,238.0 458.0,235.0 461.0,232.0 464.0,230.0 468.0,228.0 472.0,226.0 476.0,224.5 480.0,223.5 484.0,222.5 488.0,221.5 492.0,221.0" />
<circle cx="456.0" cy="238.0" r="1.5" fill="#111"/>
<circle cx="458.0" cy="235.0" r="1.5" fill="#111"/>
<circle cx="461.0" cy="232.0" r="1.5" fill="#111"/>
<circle cx="464.0" cy="230.0" r="1.5" fill="#111"/>
<circle cx="468.0" cy="228.0" r="1.5" fill="#111"/>
<circle cx="472.0" cy="226.0" r="1.5" fill="#111"/>
<circle cx="476.0" cy="224.5" r="1.5" fill="#111"/>
<circle cx="480.0" cy="223.5" r="1.5" fill="#111"/>
<circle cx="484.0" cy="222.5" r="1.5" fill="#111"/>
<circle cx="488.0" cy="221.5" r="1.5" fill="#111"/>
<circle cx="492.0" cy="221.0" r="1.5" fill="#111"/>
<polyline fill="none" stroke="#9a9a9a" stroke-width="2.6" stroke-linejoin="round" stroke-linecap="round" points="456.0,237.0 458.0,233.0 461.0,230.0 464.0,228.5 468.0,227.0 472.0,226.0 476.0,225.5 480.0,225.0 484.0,224.5 490.0,224.0 494.0,224.0" />
<circle cx="456.0" cy="237.0" r="1.5" fill="#9a9a9a"/>
<circle cx="458.0" cy="233.0" r="1.5" fill="#9a9a9a"/>
<circle cx="461.0" cy="230.0" r="1.5" fill="#9a9a9a"/>
<circle cx="464.0" cy="228.5" r="1.5" fill="#9a9a9a"/>
<circle cx="468.0" cy="227.0" r="1.5" fill="#9a9a9a"/>
<circle cx="472.0" cy="226.0" r="1.5" fill="#9a9a9a"/>
<circle cx="476.0" cy="225.5" r="1.5" fill="#9a9a9a"/>
<circle cx="480.0" cy="225.0" r="1.5" fill="#9a9a9a"/>
<circle cx="484.0" cy="224.5" r="1.5" fill="#9a9a9a"/>
<circle cx="490.0" cy="224.0" r="1.5" fill="#9a9a9a"/>
<circle cx="494.0" cy="224.0" r="1.5" fill="#9a9a9a"/>
<polyline fill="none" stroke="#d01c1f" stroke-width="2.6" stroke-linejoin="round" stroke-linecap="round" points="455.4,241.0 456.0,236.0 457.0,229.0 457.5,224.0 458.5,216.0 461.0,214.0 464.0,211.5 468.0,207.5 472.0,203.0 476.0,197.5 480.0,192.5 484.0,188.0 486.0,185.5 487.5,184.5" />
<circle cx="455.4" cy="241.0" r="1.5" fill="#d01c1f"/>
<circle cx="456.0" cy="236.0" r="1.5" fill="#d01c1f"/>
<circle cx="457.0" cy="229.0" r="1.5" fill="#d01c1f"/>
<circle cx="457.5" cy="224.0" r="1.5" fill="#d01c1f"/>
<circle cx="458.5" cy="216.0" r="1.5" fill="#d01c1f"/>
<circle cx="461.0" cy="214.0" r="1.5" fill="#d01c1f"/>
<circle cx="464.0" cy="211.5" r="1.5" fill="#d01c1f"/>
<circle cx="468.0" cy="207.5" r="1.5" fill="#d01c1f"/>
<circle cx="472.0" cy="203.0" r="1.5" fill="#d01c1f"/>
<circle cx="476.0" cy="197.5" r="1.5" fill="#d01c1f"/>
<circle cx="480.0" cy="192.5" r="1.5" fill="#d01c1f"/>
<circle cx="484.0" cy="188.0" r="1.5" fill="#d01c1f"/>
<circle cx="486.0" cy="185.5" r="1.5" fill="#d01c1f"/>
<circle cx="487.5" cy="184.5" r="1.5" fill="#d01c1f"/>
<line x1="521.2" y1="183.0" x2="521.2" y2="242.8" stroke="#d2d2d2" stroke-width="0.5"/>
<line x1="535.8" y1="183.0" x2="535.8" y2="242.8" stroke="#d2d2d2" stroke-width="0.5"/>
<line x1="550.4" y1="183.0" x2="550.4" y2="242.8" stroke="#d2d2d2" stroke-width="0.5"/>
<line x1="519.3" y1="224.5" x2="561.8" y2="224.5" stroke="#d2d2d2" stroke-width="0.5"/>
<line x1="519.3" y1="206.7" x2="561.8" y2="206.7" stroke="#d2d2d2" stroke-width="0.5"/>
<line x1="519.3" y1="188.9" x2="561.8" y2="188.9" stroke="#d2d2d2" stroke-width="0.5"/>
<rect x="519.3" y="183.0" width="42.5" height="59.8" fill="none" stroke="#bbb" stroke-width="0.6"/>
<line x1="519.3" y1="183.0" x2="519.3" y2="242.8" stroke="#222" stroke-width="0.9"/>
<line x1="561.8" y1="183.0" x2="561.8" y2="242.8" stroke="#222" stroke-width="0.9"/>
<text x="521.2" y="247.3" font-size="4.10" font-family="Liberation Serif" fill="#333" text-anchor="middle" >0</text>
<text x="535.8" y="247.3" font-size="4.10" font-family="Liberation Serif" fill="#333" text-anchor="middle" >2000</text>
<text x="550.4" y="247.3" font-size="4.10" font-family="Liberation Serif" fill="#333" text-anchor="middle" >4000</text>
<text x="540.5" y="252.2" font-size="4.33" font-family="Liberation Serif" fill="#333" text-anchor="middle" >EFC / -</text>
<text x="540.5" y="181.8" font-size="5.02" font-family="Liberation Serif" fill="#222" text-anchor="middle" >&#916;OCP</text>
<text x="520.8" y="187.0" font-size="3.88" font-family="Liberation Serif" fill="#333" text-anchor="start" >d)</text>
<polyline fill="none" stroke="#1565c0" stroke-width="2.6" stroke-linejoin="round" stroke-linecap="round" points="522.0,225.0 525.0,226.0 529.0,227.5 533.0,228.0 537.0,229.0 541.0,228.5 545.0,228.0 549.0,227.5 553.0,227.0 557.0,226.0" />
<circle cx="522.0" cy="225.0" r="1.5" fill="#1565c0"/>
<circle cx="525.0" cy="226.0" r="1.5" fill="#1565c0"/>
<circle cx="529.0" cy="227.5" r="1.5" fill="#1565c0"/>
<circle cx="533.0" cy="228.0" r="1.5" fill="#1565c0"/>
<circle cx="537.0" cy="229.0" r="1.5" fill="#1565c0"/>
<circle cx="541.0" cy="228.5" r="1.5" fill="#1565c0"/>
<circle cx="545.0" cy="228.0" r="1.5" fill="#1565c0"/>
<circle cx="549.0" cy="227.5" r="1.5" fill="#1565c0"/>
<circle cx="553.0" cy="227.0" r="1.5" fill="#1565c0"/>
<circle cx="557.0" cy="226.0" r="1.5" fill="#1565c0"/>
<polyline fill="none" stroke="#111" stroke-width="2.6" stroke-linejoin="round" stroke-linecap="round" points="521.0,224.0 523.0,219.0 526.0,222.0 530.0,223.5 534.0,225.0 538.0,225.0 542.0,224.5 546.0,224.0 551.0,224.5" />
<circle cx="521.0" cy="224.0" r="1.5" fill="#111"/>
<circle cx="523.0" cy="219.0" r="1.5" fill="#111"/>
<circle cx="526.0" cy="222.0" r="1.5" fill="#111"/>
<circle cx="530.0" cy="223.5" r="1.5" fill="#111"/>
<circle cx="534.0" cy="225.0" r="1.5" fill="#111"/>
<circle cx="538.0" cy="225.0" r="1.5" fill="#111"/>
<circle cx="542.0" cy="224.5" r="1.5" fill="#111"/>
<circle cx="546.0" cy="224.0" r="1.5" fill="#111"/>
<circle cx="551.0" cy="224.5" r="1.5" fill="#111"/>
<polyline fill="none" stroke="#9a9a9a" stroke-width="2.6" stroke-linejoin="round" stroke-linecap="round" points="521.0,223.0 524.0,220.0 528.0,220.5 532.0,220.5 536.0,221.0 540.0,220.0 544.0,219.5 548.0,220.0 552.0,220.5" />
<circle cx="521.0" cy="223.0" r="1.5" fill="#9a9a9a"/>
<circle cx="524.0" cy="220.0" r="1.5" fill="#9a9a9a"/>
<circle cx="528.0" cy="220.5" r="1.5" fill="#9a9a9a"/>
<circle cx="532.0" cy="220.5" r="1.5" fill="#9a9a9a"/>
<circle cx="536.0" cy="221.0" r="1.5" fill="#9a9a9a"/>
<circle cx="540.0" cy="220.0" r="1.5" fill="#9a9a9a"/>
<circle cx="544.0" cy="219.5" r="1.5" fill="#9a9a9a"/>
<circle cx="548.0" cy="220.0" r="1.5" fill="#9a9a9a"/>
<circle cx="552.0" cy="220.5" r="1.5" fill="#9a9a9a"/>
<polyline fill="none" stroke="#d01c1f" stroke-width="2.6" stroke-linejoin="round" stroke-linecap="round" points="521.0,224.0 522.0,218.0 523.5,215.5 525.0,213.0 527.0,210.0 529.0,205.0 531.0,202.0 533.0,198.0 535.0,195.5 537.0,194.0 539.0,192.0 541.0,190.0 542.5,193.0 544.0,192.0 546.0,189.0 547.5,186.0" />
<circle cx="521.0" cy="224.0" r="1.5" fill="#d01c1f"/>
<circle cx="522.0" cy="218.0" r="1.5" fill="#d01c1f"/>
<circle cx="523.5" cy="215.5" r="1.5" fill="#d01c1f"/>
<circle cx="525.0" cy="213.0" r="1.5" fill="#d01c1f"/>
<circle cx="527.0" cy="210.0" r="1.5" fill="#d01c1f"/>
<circle cx="529.0" cy="205.0" r="1.5" fill="#d01c1f"/>
<circle cx="531.0" cy="202.0" r="1.5" fill="#d01c1f"/>
<circle cx="533.0" cy="198.0" r="1.5" fill="#d01c1f"/>
<circle cx="535.0" cy="195.5" r="1.5" fill="#d01c1f"/>
<circle cx="537.0" cy="194.0" r="1.5" fill="#d01c1f"/>
<circle cx="539.0" cy="192.0" r="1.5" fill="#d01c1f"/>
<circle cx="541.0" cy="190.0" r="1.5" fill="#d01c1f"/>
<circle cx="542.5" cy="193.0" r="1.5" fill="#d01c1f"/>
<circle cx="544.0" cy="192.0" r="1.5" fill="#d01c1f"/>
<circle cx="546.0" cy="189.0" r="1.5" fill="#d01c1f"/>
<circle cx="547.5" cy="186.0" r="1.5" fill="#d01c1f"/>
<text x="517.3" y="243.6" font-size="4.10" font-family="Liberation Serif" fill="#333" text-anchor="end" >0</text>
<text x="517.3" y="225.8" font-size="4.10" font-family="Liberation Serif" fill="#333" text-anchor="end" >5</text>
<text x="517.3" y="208.0" font-size="4.10" font-family="Liberation Serif" fill="#333" text-anchor="end" >10</text>
<text x="517.3" y="190.2" font-size="4.10" font-family="Liberation Serif" fill="#333" text-anchor="end" >15</text>
<text x="0" y="0" font-size="4.2" font-family="Liberation Serif" fill="#555" text-anchor="middle" transform="translate(510,213) rotate(-90)">&#916;OCP / mV</text>
<rect x="403.2" y="259.2" width="103.2" height="5.8" fill="#fff" stroke="#222" stroke-width="0.6"/>
<line x1="405.2" y1="262.1" x2="417.2" y2="262.1" stroke="#1565c0" stroke-width="1.1"/>
<circle cx="411.2" cy="262.1" r="1.2" fill="#1565c0"/>
<text x="418.2" y="263.6" font-size="4.10" font-family="Liberation Serif" fill="#333" text-anchor="start" >Cell 1</text>
<line x1="431.0" y1="262.1" x2="443.0" y2="262.1" stroke="#111" stroke-width="1.1"/>
<circle cx="437.0" cy="262.1" r="1.2" fill="#111"/>
<text x="444.0" y="263.6" font-size="4.10" font-family="Liberation Serif" fill="#333" text-anchor="start" >Cell 2</text>
<line x1="456.8" y1="262.1" x2="468.8" y2="262.1" stroke="#9a9a9a" stroke-width="1.1"/>
<circle cx="462.8" cy="262.1" r="1.2" fill="#9a9a9a"/>
<text x="469.8" y="263.6" font-size="4.10" font-family="Liberation Serif" fill="#333" text-anchor="start" >Cell 3</text>
<line x1="482.6" y1="262.1" x2="494.6" y2="262.1" stroke="#d01c1f" stroke-width="1.1"/>
<circle cx="488.6" cy="262.1" r="1.2" fill="#d01c1f"/>
<text x="495.6" y="263.6" font-size="4.10" font-family="Liberation Serif" fill="#333" text-anchor="start" >Cell 4</text>
<line x1="350.0" y1="297.4" x2="350.0" y2="342.3" stroke="#d2d2d2" stroke-width="0.5"/>
<line x1="363.8" y1="297.4" x2="363.8" y2="342.3" stroke="#d2d2d2" stroke-width="0.5"/>
<line x1="377.6" y1="297.4" x2="377.6" y2="342.3" stroke="#d2d2d2" stroke-width="0.5"/>
<line x1="391.4" y1="297.4" x2="391.4" y2="342.3" stroke="#d2d2d2" stroke-width="0.5"/>
<line x1="405.2" y1="297.4" x2="405.2" y2="342.3" stroke="#d2d2d2" stroke-width="0.5"/>
<line x1="419.0" y1="297.4" x2="419.0" y2="342.3" stroke="#d2d2d2" stroke-width="0.5"/>
<line x1="432.8" y1="297.4" x2="432.8" y2="342.3" stroke="#d2d2d2" stroke-width="0.5"/>
<line x1="446.6" y1="297.4" x2="446.6" y2="342.3" stroke="#d2d2d2" stroke-width="0.5"/>
<line x1="350.0" y1="312.0" x2="445.6" y2="312.0" stroke="#d2d2d2" stroke-width="0.5"/>
<line x1="350.0" y1="331.0" x2="445.6" y2="331.0" stroke="#d2d2d2" stroke-width="0.5"/>
<line x1="350.0" y1="297.4" x2="445.6" y2="297.4" stroke="#444" stroke-width="0.6"/>
<line x1="350.0" y1="297.4" x2="350.0" y2="342.3" stroke="#333" stroke-width="0.8"/>
<line x1="350.0" y1="342.3" x2="445.6" y2="342.3" stroke="#222" stroke-width="0.9"/>
<line x1="350.0" y1="342.3" x2="350.0" y2="341.1" stroke="#222" stroke-width="0.6"/>
<line x1="350.0" y1="297.4" x2="350.0" y2="298.59999999999997" stroke="#222" stroke-width="0.6"/>
<text x="350.0" y="347.2" font-size="4.10" font-family="Liberation Serif" fill="#333" text-anchor="middle" >0</text>
<line x1="363.8" y1="342.3" x2="363.8" y2="341.1" stroke="#222" stroke-width="0.6"/>
<line x1="363.8" y1="297.4" x2="363.8" y2="298.59999999999997" stroke="#222" stroke-width="0.6"/>
<text x="363.8" y="347.2" font-size="4.10" font-family="Liberation Serif" fill="#333" text-anchor="middle" >0.2</text>
<line x1="377.6" y1="342.3" x2="377.6" y2="341.1" stroke="#222" stroke-width="0.6"/>
<line x1="377.6" y1="297.4" x2="377.6" y2="298.59999999999997" stroke="#222" stroke-width="0.6"/>
<text x="377.6" y="347.2" font-size="4.10" font-family="Liberation Serif" fill="#333" text-anchor="middle" >0.4</text>
<line x1="391.4" y1="342.3" x2="391.4" y2="341.1" stroke="#222" stroke-width="0.6"/>
<line x1="391.4" y1="297.4" x2="391.4" y2="298.59999999999997" stroke="#222" stroke-width="0.6"/>
<text x="391.4" y="347.2" font-size="4.10" font-family="Liberation Serif" fill="#333" text-anchor="middle" >0.6</text>
<line x1="405.2" y1="342.3" x2="405.2" y2="341.1" stroke="#222" stroke-width="0.6"/>
<line x1="405.2" y1="297.4" x2="405.2" y2="298.59999999999997" stroke="#222" stroke-width="0.6"/>
<text x="405.2" y="347.2" font-size="4.10" font-family="Liberation Serif" fill="#333" text-anchor="middle" >0.8</text>
<line x1="419.0" y1="342.3" x2="419.0" y2="341.1" stroke="#222" stroke-width="0.6"/>
<line x1="419.0" y1="297.4" x2="419.0" y2="298.59999999999997" stroke="#222" stroke-width="0.6"/>
<text x="419.0" y="347.2" font-size="4.10" font-family="Liberation Serif" fill="#333" text-anchor="middle" >1</text>
<line x1="432.8" y1="342.3" x2="432.8" y2="341.1" stroke="#222" stroke-width="0.6"/>
<line x1="432.8" y1="297.4" x2="432.8" y2="298.59999999999997" stroke="#222" stroke-width="0.6"/>
<text x="432.8" y="347.2" font-size="4.10" font-family="Liberation Serif" fill="#333" text-anchor="middle" >1.2</text>
<line x1="446.6" y1="342.3" x2="446.6" y2="341.1" stroke="#222" stroke-width="0.6"/>
<line x1="446.6" y1="297.4" x2="446.6" y2="298.59999999999997" stroke="#222" stroke-width="0.6"/>
<text x="446.6" y="347.2" font-size="4.10" font-family="Liberation Serif" fill="#333" text-anchor="middle" >1.4</text>
<text x="347.5" y="313.3" font-size="4.10" font-family="Liberation Serif" fill="#333" text-anchor="end" >2.5</text>
<text x="347.5" y="332.3" font-size="4.10" font-family="Liberation Serif" fill="#333" text-anchor="end" >2</text>
<text x="399.0" y="353.5" font-size="4.56" font-family="Liberation Serif" fill="#333" text-anchor="middle" ><tspan font-style='italic'>Q</tspan> / mAh/cm&#178;</text>
<text x="0" y="0" font-size="4.0" font-family="Liberation Serif" fill="#555" text-anchor="middle" transform="translate(340,322) rotate(-90)">U&#8320;&#8320;&#8323; / V</text>
<polyline fill="none" stroke="#A8A81A" stroke-width="1.1" stroke-linejoin="round" stroke-linecap="round" points="350.0,341.0 356.0,339.0 362.0,337.0 368.0,336.0 375.0,335.0 382.0,333.8 390.0,332.5 395.0,331.8 398.0,331.0 401.0,329.5 404.0,327.0 410.0,323.0 416.0,319.0 422.0,315.0 428.0,311.5 434.0,308.5 440.0,305.0 445.5,302.0" />
<line x1="462.4" y1="297.4" x2="462.4" y2="342.2" stroke="#d2d2d2" stroke-width="0.5"/>
<line x1="476.3" y1="297.4" x2="476.3" y2="342.2" stroke="#d2d2d2" stroke-width="0.5"/>
<line x1="490.2" y1="297.4" x2="490.2" y2="342.2" stroke="#d2d2d2" stroke-width="0.5"/>
<line x1="504.1" y1="297.4" x2="504.1" y2="342.2" stroke="#d2d2d2" stroke-width="0.5"/>
<line x1="518.0" y1="297.4" x2="518.0" y2="342.2" stroke="#d2d2d2" stroke-width="0.5"/>
<line x1="531.9" y1="297.4" x2="531.9" y2="342.2" stroke="#d2d2d2" stroke-width="0.5"/>
<line x1="545.8" y1="297.4" x2="545.8" y2="342.2" stroke="#d2d2d2" stroke-width="0.5"/>
<line x1="559.7" y1="297.4" x2="559.7" y2="342.2" stroke="#d2d2d2" stroke-width="0.5"/>
<line x1="462.4" y1="306.6" x2="560.8" y2="306.6" stroke="#d2d2d2" stroke-width="0.5"/>
<line x1="462.4" y1="322.5" x2="560.8" y2="322.5" stroke="#d2d2d2" stroke-width="0.5"/>
<line x1="462.4" y1="338.3" x2="560.8" y2="338.3" stroke="#d2d2d2" stroke-width="0.5"/>
<rect x="462.4" y="297.4" width="98.4" height="44.8" fill="none" stroke="#444" stroke-width="0.6"/>
<line x1="462.4" y1="297.4" x2="462.4" y2="342.2" stroke="#333" stroke-width="0.8"/>
<line x1="462.4" y1="342.2" x2="560.8" y2="342.2" stroke="#222" stroke-width="0.9"/>
<line x1="462.4" y1="342.2" x2="462.4" y2="341.0" stroke="#222" stroke-width="0.6"/>
<line x1="462.4" y1="297.4" x2="462.4" y2="298.59999999999997" stroke="#222" stroke-width="0.6"/>
<text x="462.4" y="347.2" font-size="4.10" font-family="Liberation Serif" fill="#333" text-anchor="middle" >0</text>
<line x1="476.3" y1="342.2" x2="476.3" y2="341.0" stroke="#222" stroke-width="0.6"/>
<line x1="476.3" y1="297.4" x2="476.3" y2="298.59999999999997" stroke="#222" stroke-width="0.6"/>
<text x="476.3" y="347.2" font-size="4.10" font-family="Liberation Serif" fill="#333" text-anchor="middle" >0.2</text>
<line x1="490.2" y1="342.2" x2="490.2" y2="341.0" stroke="#222" stroke-width="0.6"/>
<line x1="490.2" y1="297.4" x2="490.2" y2="298.59999999999997" stroke="#222" stroke-width="0.6"/>
<text x="490.2" y="347.2" font-size="4.10" font-family="Liberation Serif" fill="#333" text-anchor="middle" >0.4</text>
<line x1="504.1" y1="342.2" x2="504.1" y2="341.0" stroke="#222" stroke-width="0.6"/>
<line x1="504.1" y1="297.4" x2="504.1" y2="298.59999999999997" stroke="#222" stroke-width="0.6"/>
<text x="504.1" y="347.2" font-size="4.10" font-family="Liberation Serif" fill="#333" text-anchor="middle" >0.6</text>
<line x1="518.0" y1="342.2" x2="518.0" y2="341.0" stroke="#222" stroke-width="0.6"/>
<line x1="518.0" y1="297.4" x2="518.0" y2="298.59999999999997" stroke="#222" stroke-width="0.6"/>
<text x="518.0" y="347.2" font-size="4.10" font-family="Liberation Serif" fill="#333" text-anchor="middle" >0.8</text>
<line x1="531.9" y1="342.2" x2="531.9" y2="341.0" stroke="#222" stroke-width="0.6"/>
<line x1="531.9" y1="297.4" x2="531.9" y2="298.59999999999997" stroke="#222" stroke-width="0.6"/>
<text x="531.9" y="347.2" font-size="4.10" font-family="Liberation Serif" fill="#333" text-anchor="middle" >1</text>
<line x1="545.8" y1="342.2" x2="545.8" y2="341.0" stroke="#222" stroke-width="0.6"/>
<line x1="545.8" y1="297.4" x2="545.8" y2="298.59999999999997" stroke="#222" stroke-width="0.6"/>
<text x="545.8" y="347.2" font-size="4.10" font-family="Liberation Serif" fill="#333" text-anchor="middle" >1.2</text>
<line x1="559.7" y1="342.2" x2="559.7" y2="341.0" stroke="#222" stroke-width="0.6"/>
<line x1="559.7" y1="297.4" x2="559.7" y2="298.59999999999997" stroke="#222" stroke-width="0.6"/>
<text x="559.7" y="347.2" font-size="4.10" font-family="Liberation Serif" fill="#333" text-anchor="middle" >1.4</text>
<text x="460.0" y="307.9" font-size="4.10" font-family="Liberation Serif" fill="#333" text-anchor="end" >1</text>
<text x="460.0" y="323.8" font-size="4.10" font-family="Liberation Serif" fill="#333" text-anchor="end" >0.5</text>
<text x="460.0" y="339.6" font-size="4.10" font-family="Liberation Serif" fill="#333" text-anchor="end" >0</text>
<text x="511.0" y="353.5" font-size="4.56" font-family="Liberation Serif" fill="#333" text-anchor="middle" ><tspan font-style='italic'>Q</tspan> / mAh/cm&#178;</text>
<text x="0" y="0" font-size="4.0" font-family="Liberation Serif" fill="#555" text-anchor="middle" transform="translate(452,320) rotate(-90)">U&#8320;&#8320;&#8321; / V</text>
<polyline fill="none" stroke="#1f6fc5" stroke-width="1.3" stroke-linejoin="round" stroke-linecap="round" points="462.5,304.0 466.0,308.0 470.0,312.0 474.0,315.5 478.0,319.0 482.0,323.0 486.0,327.0 489.0,329.8 492.0,332.0 496.0,333.8 500.0,335.0 505.0,335.8 510.0,336.2 515.0,336.5 525.0,336.8 540.0,337.2 560.5,337.6" />
<rect x="390.8" y="358.4" width="129.8" height="5.8" fill="#fff" stroke="#222" stroke-width="0.6"/>
<line x1="392" y1="361.3" x2="404.5" y2="361.3" stroke="#A8A81A" stroke-width="1.0" />
<text x="405.6" y="362.7" font-size="4.10" font-family="Liberation Serif" fill="#333" text-anchor="start" >Cathode</text>
<line x1="422" y1="361.3" x2="434.5" y2="361.3" stroke="#1f6fc5" stroke-width="1.0" />
<text x="436.0" y="362.7" font-size="4.10" font-family="Liberation Serif" fill="#333" text-anchor="start" >Anode</text>
<line x1="448.7" y1="361.3" x2="461.2" y2="361.3" stroke="#333" stroke-width="0.5" />
<text x="462.5" y="362.7" font-size="4.10" font-family="Liberation Serif" fill="#333" text-anchor="start" >Measured</text>
<line x1="481.4" y1="361.3" x2="493.9" y2="361.3" stroke="#333" stroke-width="0.6" stroke-dasharray="0.8,0.9"/>
<text x="495.5" y="362.7" font-size="4.10" font-family="Liberation Serif" fill="#333" text-anchor="start" >Reconstructed</text>
<line x1="351.8" y1="391.4" x2="351.8" y2="455.2" stroke="#d0d0d0" stroke-width="0.5"/>
<line x1="366.6" y1="391.4" x2="366.6" y2="455.2" stroke="#d0d0d0" stroke-width="0.5"/>
<line x1="381.4" y1="391.4" x2="381.4" y2="455.2" stroke="#d0d0d0" stroke-width="0.5"/>
<line x1="396.2" y1="391.4" x2="396.2" y2="455.2" stroke="#d0d0d0" stroke-width="0.5"/>
<line x1="411.0" y1="391.4" x2="411.0" y2="455.2" stroke="#d0d0d0" stroke-width="0.5"/>
<line x1="349.4" y1="452.3" x2="411.6" y2="452.3" stroke="#d0d0d0" stroke-width="0.5"/>
<line x1="349.4" y1="437.6" x2="411.6" y2="437.6" stroke="#d0d0d0" stroke-width="0.5"/>
<line x1="349.4" y1="422.8" x2="411.6" y2="422.8" stroke="#d0d0d0" stroke-width="0.5"/>
<line x1="349.4" y1="408.1" x2="411.6" y2="408.1" stroke="#d0d0d0" stroke-width="0.5"/>
<line x1="349.4" y1="393.3" x2="411.6" y2="393.3" stroke="#d0d0d0" stroke-width="0.5"/>
<rect x="349.4" y="391.4" width="62.2" height="63.8" fill="none" stroke="#444" stroke-width="0.6"/>
<line x1="349.4" y1="452.3" x2="350.7" y2="452.3" stroke="#111" stroke-width="0.7"/>
<line x1="410.3" y1="452.3" x2="411.6" y2="452.3" stroke="#111" stroke-width="0.7"/>
<line x1="349.4" y1="437.6" x2="350.7" y2="437.6" stroke="#111" stroke-width="0.7"/>
<line x1="410.3" y1="437.6" x2="411.6" y2="437.6" stroke="#111" stroke-width="0.7"/>
<line x1="349.4" y1="422.8" x2="350.7" y2="422.8" stroke="#111" stroke-width="0.7"/>
<line x1="410.3" y1="422.8" x2="411.6" y2="422.8" stroke="#111" stroke-width="0.7"/>
<line x1="349.4" y1="408.1" x2="350.7" y2="408.1" stroke="#111" stroke-width="0.7"/>
<line x1="410.3" y1="408.1" x2="411.6" y2="408.1" stroke="#111" stroke-width="0.7"/>
<line x1="349.4" y1="393.3" x2="350.7" y2="393.3" stroke="#111" stroke-width="0.7"/>
<line x1="410.3" y1="393.3" x2="411.6" y2="393.3" stroke="#111" stroke-width="0.7"/>
<text x="351.8" y="459.6" font-size="4.10" font-family="Liberation Serif" fill="#333" text-anchor="middle" >0</text>
<text x="366.6" y="459.6" font-size="4.10" font-family="Liberation Serif" fill="#333" text-anchor="middle" >50</text>
<text x="381.4" y="459.6" font-size="4.10" font-family="Liberation Serif" fill="#333" text-anchor="middle" >100</text>
<text x="396.2" y="459.6" font-size="4.10" font-family="Liberation Serif" fill="#333" text-anchor="middle" >150</text>
<text x="411.0" y="459.6" font-size="4.10" font-family="Liberation Serif" fill="#333" text-anchor="middle" >200</text>
<text x="381.5" y="465.2" font-size="4.33" font-family="Liberation Serif" fill="#333" text-anchor="middle" >Z' / &#937;&#183;cm&#178;</text>
<text x="347.3" y="453.6" font-size="4.10" font-family="Liberation Serif" fill="#333" text-anchor="end" >0</text>
<text x="347.3" y="438.9" font-size="4.10" font-family="Liberation Serif" fill="#333" text-anchor="end" >50</text>
<text x="347.3" y="424.1" font-size="4.10" font-family="Liberation Serif" fill="#333" text-anchor="end" >100</text>
<text x="347.3" y="409.4" font-size="4.10" font-family="Liberation Serif" fill="#333" text-anchor="end" >150</text>
<text x="347.3" y="394.6" font-size="4.10" font-family="Liberation Serif" fill="#333" text-anchor="end" >200</text>
<text x="0" y="0" font-size="3.8" font-family="Liberation Serif" fill="#555" text-anchor="middle" transform="translate(340.6,420) rotate(-90)">-Z'' / &#937;&#183;cm&#178;</text>
<text x="354.5" y="397.3" font-size="4.10" font-family="Liberation Serif" fill="#333" text-anchor="start" >a) T-cell full</text>
<polyline fill="none" stroke="#c8c8c8" stroke-width="1.0" stroke-linejoin="round" stroke-linecap="round" points="355.5,452.6 355.8,450.4 356.7,448.2 358.1,446.1 360.0,444.2 362.5,442.4 365.4,440.9 368.6,439.6 372.1,438.6 375.9,438.0 379.7,437.6 383.6,437.6 387.5,438.0 391.3,438.6 394.8,439.6 398.0,440.9 400.9,442.4 403.3,444.1 405.3,446.1" />
<polyline fill="none" stroke="#a8a8a8" stroke-width="0.8" stroke-linejoin="round" stroke-linecap="round" points="355.0,452.6 355.1,451.4 355.6,450.3 356.3,449.3 357.3,448.3 358.5,447.4 360.0,446.7 361.6,446.1 363.3,445.7 365.2,445.5 367.0,445.4 368.9,445.5 370.7,445.9 372.3,446.3 373.9,447.0 375.2,447.8 376.4,448.7 377.2,449.7 377.8,450.8" />
<polyline fill="none" stroke="#8a8a8a" stroke-width="0.8" stroke-linejoin="round" stroke-linecap="round" points="354.6,452.6 354.7,451.6 355.1,450.7 355.7,449.8 356.6,449.0 357.6,448.3 358.8,447.6 360.2,447.1 361.7,446.8 363.3,446.6 364.9,446.5 366.5,446.6 368.0,446.8 369.5,447.2 370.9,447.7 372.1,448.3 373.1,449.1 373.9,449.9 374.5,450.8" />
<polyline fill="none" stroke="#6e6e6e" stroke-width="0.9" stroke-linejoin="round" stroke-linecap="round" points="354.3,452.6 354.4,451.7 354.8,450.9 355.3,450.1 356.1,449.4 357.0,448.7 358.1,448.1 359.4,447.7 360.7,447.4 362.1,447.2 363.6,447.1 365.0,447.2 366.4,447.4 367.8,447.7 369.0,448.2 370.1,448.8 371.0,449.4 371.8,450.2 372.3,451.0" />
<polyline fill="none" stroke="#555" stroke-width="0.9" stroke-linejoin="round" stroke-linecap="round" points="354.0,452.6 354.1,451.8 354.4,451.0 354.9,450.3 355.6,449.6 356.5,449.1 357.5,448.5 358.6,448.1 359.9,447.8 361.1,447.7 362.5,447.6 363.8,447.7 365.1,447.9 366.3,448.2 367.4,448.6 368.4,449.1 369.3,449.7 369.9,450.4 370.4,451.1" />
<polyline fill="none" stroke="#3a3a3a" stroke-width="1.0" stroke-linejoin="round" stroke-linecap="round" points="353.8,452.6 353.9,451.9 354.2,451.1 354.7,450.5 355.4,449.8 356.2,449.3 357.2,448.8 358.2,448.5 359.4,448.2 360.6,448.0 361.9,448.0 363.1,448.1 364.3,448.3 365.5,448.6 366.5,449.0 367.4,449.5 368.2,450.1 368.8,450.8 369.2,451.5" />
<polyline fill="none" stroke="#222" stroke-width="1.2" stroke-linejoin="round" stroke-linecap="round" points="353.6,452.6 353.7,451.9 354.0,451.2 354.5,450.6 355.1,450.0 355.9,449.5 356.8,449.0 357.9,448.7 359.0,448.4 360.2,448.3 361.4,448.3 362.5,448.4 363.7,448.6 364.7,448.9 365.7,449.4 366.5,449.9 367.2,450.4 367.7,451.1 368.1,451.7" />
<polyline fill="none" stroke="#111" stroke-width="1.4" stroke-linejoin="round" stroke-linecap="round" points="353.4,452.6 353.5,452.0 353.8,451.3 354.3,450.8 354.9,450.2 355.7,449.8 356.7,449.4 357.7,449.1 358.8,448.9 360.0,448.8 361.1,448.8 362.3,449.0 363.3,449.2 364.3,449.5 365.2,449.9 366.0,450.4 366.5,451.0 367.0,451.6 367.2,452.2" />
<polyline fill="none" stroke="#000" stroke-width="1.8" stroke-linejoin="round" stroke-linecap="round" points="353.2,452.6 353.3,452.0 353.6,451.4 354.1,450.9 354.7,450.4 355.5,450.0 356.4,449.6 357.4,449.3 358.5,449.2 359.6,449.1 360.8,449.1 361.9,449.3 362.9,449.5 363.9,449.8 364.7,450.2 365.4,450.7 365.9,451.3 366.2,451.8 366.4,452.4" />
<line x1="416.9" y1="391.4" x2="416.9" y2="455.2" stroke="#d0d0d0" stroke-width="0.5"/>
<line x1="431.8" y1="391.4" x2="431.8" y2="455.2" stroke="#d0d0d0" stroke-width="0.5"/>
<line x1="446.7" y1="391.4" x2="446.7" y2="455.2" stroke="#d0d0d0" stroke-width="0.5"/>
<line x1="461.6" y1="391.4" x2="461.6" y2="455.2" stroke="#d0d0d0" stroke-width="0.5"/>
<line x1="476.5" y1="391.4" x2="476.5" y2="455.2" stroke="#d0d0d0" stroke-width="0.5"/>
<line x1="414.7" y1="452.3" x2="479.2" y2="452.3" stroke="#d0d0d0" stroke-width="0.5"/>
<line x1="414.7" y1="437.6" x2="479.2" y2="437.6" stroke="#d0d0d0" stroke-width="0.5"/>
<line x1="414.7" y1="422.8" x2="479.2" y2="422.8" stroke="#d0d0d0" stroke-width="0.5"/>
<line x1="414.7" y1="408.1" x2="479.2" y2="408.1" stroke="#d0d0d0" stroke-width="0.5"/>
<line x1="414.7" y1="393.3" x2="479.2" y2="393.3" stroke="#d0d0d0" stroke-width="0.5"/>
<rect x="414.7" y="391.4" width="64.5" height="63.8" fill="none" stroke="#444" stroke-width="0.6"/>
<line x1="414.7" y1="452.3" x2="416.0" y2="452.3" stroke="#111" stroke-width="0.7"/>
<line x1="477.9" y1="452.3" x2="479.2" y2="452.3" stroke="#111" stroke-width="0.7"/>
<line x1="414.7" y1="437.6" x2="416.0" y2="437.6" stroke="#111" stroke-width="0.7"/>
<line x1="477.9" y1="437.6" x2="479.2" y2="437.6" stroke="#111" stroke-width="0.7"/>
<line x1="414.7" y1="422.8" x2="416.0" y2="422.8" stroke="#111" stroke-width="0.7"/>
<line x1="477.9" y1="422.8" x2="479.2" y2="422.8" stroke="#111" stroke-width="0.7"/>
<line x1="414.7" y1="408.1" x2="416.0" y2="408.1" stroke="#111" stroke-width="0.7"/>
<line x1="477.9" y1="408.1" x2="479.2" y2="408.1" stroke="#111" stroke-width="0.7"/>
<line x1="414.7" y1="393.3" x2="416.0" y2="393.3" stroke="#111" stroke-width="0.7"/>
<line x1="477.9" y1="393.3" x2="479.2" y2="393.3" stroke="#111" stroke-width="0.7"/>
<text x="416.9" y="459.6" font-size="4.10" font-family="Liberation Serif" fill="#333" text-anchor="middle" >0</text>
<text x="431.8" y="459.6" font-size="4.10" font-family="Liberation Serif" fill="#333" text-anchor="middle" >50</text>
<text x="446.7" y="459.6" font-size="4.10" font-family="Liberation Serif" fill="#333" text-anchor="middle" >100</text>
<text x="461.6" y="459.6" font-size="4.10" font-family="Liberation Serif" fill="#333" text-anchor="middle" >150</text>
<text x="476.5" y="459.6" font-size="4.10" font-family="Liberation Serif" fill="#333" text-anchor="middle" >200</text>
<text x="447.9" y="465.2" font-size="4.33" font-family="Liberation Serif" fill="#333" text-anchor="middle" >Z' / &#937;&#183;cm&#178;</text>
<text x="419.0" y="397.3" font-size="4.10" font-family="Liberation Serif" fill="#333" text-anchor="start" >b) Cathode</text>
<line x1="482.4" y1="391.4" x2="482.4" y2="455.2" stroke="#d0d0d0" stroke-width="0.5"/>
<line x1="497.1" y1="391.4" x2="497.1" y2="455.2" stroke="#d0d0d0" stroke-width="0.5"/>
<line x1="511.8" y1="391.4" x2="511.8" y2="455.2" stroke="#d0d0d0" stroke-width="0.5"/>
<line x1="526.5" y1="391.4" x2="526.5" y2="455.2" stroke="#d0d0d0" stroke-width="0.5"/>
<line x1="541.2" y1="391.4" x2="541.2" y2="455.2" stroke="#d0d0d0" stroke-width="0.5"/>
<line x1="480.1" y1="452.3" x2="544.6" y2="452.3" stroke="#d0d0d0" stroke-width="0.5"/>
<line x1="480.1" y1="437.6" x2="544.6" y2="437.6" stroke="#d0d0d0" stroke-width="0.5"/>
<line x1="480.1" y1="422.8" x2="544.6" y2="422.8" stroke="#d0d0d0" stroke-width="0.5"/>
<line x1="480.1" y1="408.1" x2="544.6" y2="408.1" stroke="#d0d0d0" stroke-width="0.5"/>
<line x1="480.1" y1="393.3" x2="544.6" y2="393.3" stroke="#d0d0d0" stroke-width="0.5"/>
<rect x="480.1" y="391.4" width="64.5" height="63.8" fill="none" stroke="#444" stroke-width="0.6"/>
<line x1="480.1" y1="452.3" x2="481.40000000000003" y2="452.3" stroke="#111" stroke-width="0.7"/>
<line x1="543.3000000000001" y1="452.3" x2="544.6" y2="452.3" stroke="#111" stroke-width="0.7"/>
<line x1="480.1" y1="437.6" x2="481.40000000000003" y2="437.6" stroke="#111" stroke-width="0.7"/>
<line x1="543.3000000000001" y1="437.6" x2="544.6" y2="437.6" stroke="#111" stroke-width="0.7"/>
<line x1="480.1" y1="422.8" x2="481.40000000000003" y2="422.8" stroke="#111" stroke-width="0.7"/>
<line x1="543.3000000000001" y1="422.8" x2="544.6" y2="422.8" stroke="#111" stroke-width="0.7"/>
<line x1="480.1" y1="408.1" x2="481.40000000000003" y2="408.1" stroke="#111" stroke-width="0.7"/>
<line x1="543.3000000000001" y1="408.1" x2="544.6" y2="408.1" stroke="#111" stroke-width="0.7"/>
<line x1="480.1" y1="393.3" x2="481.40000000000003" y2="393.3" stroke="#111" stroke-width="0.7"/>
<line x1="543.3000000000001" y1="393.3" x2="544.6" y2="393.3" stroke="#111" stroke-width="0.7"/>
<text x="482.4" y="459.6" font-size="4.10" font-family="Liberation Serif" fill="#333" text-anchor="middle" >0</text>
<text x="497.1" y="459.6" font-size="4.10" font-family="Liberation Serif" fill="#333" text-anchor="middle" >50</text>
<text x="511.8" y="459.6" font-size="4.10" font-family="Liberation Serif" fill="#333" text-anchor="middle" >100</text>
<text x="526.5" y="459.6" font-size="4.10" font-family="Liberation Serif" fill="#333" text-anchor="middle" >150</text>
<text x="541.2" y="459.6" font-size="4.10" font-family="Liberation Serif" fill="#333" text-anchor="middle" >200</text>
<text x="513.4" y="465.2" font-size="4.33" font-family="Liberation Serif" fill="#333" text-anchor="middle" >Z' / &#937;&#183;cm&#178;</text>
<text x="484.5" y="397.3" font-size="4.10" font-family="Liberation Serif" fill="#333" text-anchor="start" >c) Anode</text>
<line x1="349.4" y1="455.3" x2="544.6" y2="455.3" stroke="#111" stroke-width="1.2"/>
<line x1="479.6" y1="391.4" x2="479.6" y2="455.3" stroke="#111" stroke-width="1.2"/>
<polyline fill="none" stroke="#eeeeb4" stroke-width="1.0" stroke-linejoin="round" stroke-linecap="round" points="417.3,452.6 417.4,452.0 417.6,451.5 418.0,451.0 418.5,450.5 419.1,450.0 419.8,449.7 420.6,449.4 421.4,449.2 422.3,449.1 423.3,449.1 424.2,449.2 425.0,449.4 425.8,449.6 426.6,450.0 427.2,450.4 427.7,450.8 428.1,451.4 428.4,451.9" />
<polyline fill="none" stroke="#e6e7a6" stroke-width="1.0" stroke-linejoin="round" stroke-linecap="round" points="417.3,452.6 417.4,452.0 417.6,451.5 417.9,451.0 418.4,450.5 419.0,450.1 419.7,449.8 420.5,449.5 421.3,449.3 422.2,449.2 423.1,449.2 424.0,449.3 424.8,449.5 425.6,449.7 426.3,450.0 427.0,450.4 427.5,450.9 427.9,451.4 428.1,451.9" />
<polyline fill="none" stroke="#dee098" stroke-width="1.0" stroke-linejoin="round" stroke-linecap="round" points="417.3,452.6 417.4,452.1 417.6,451.5 417.9,451.0 418.4,450.6 419.0,450.2 419.7,449.9 420.4,449.6 421.2,449.4 422.1,449.3 423.0,449.3 423.8,449.4 424.6,449.5 425.4,449.8 426.1,450.1 426.7,450.5 427.2,450.9 427.6,451.4 427.8,451.9" />
<polyline fill="none" stroke="#d4d888" stroke-width="1.0" stroke-linejoin="round" stroke-linecap="round" points="417.3,452.6 417.4,452.1 417.6,451.6 417.9,451.1 418.4,450.7 418.9,450.3 419.6,449.9 420.3,449.7 421.1,449.5 422.0,449.4 422.8,449.4 423.6,449.5 424.4,449.6 425.2,449.9 425.9,450.2 426.5,450.6 426.9,451.0 427.3,451.5 427.5,452.0" />
<polyline fill="none" stroke="#cacf75" stroke-width="1.0" stroke-linejoin="round" stroke-linecap="round" points="417.3,452.6 417.4,452.1 417.6,451.6 417.9,451.1 418.3,450.7 418.9,450.3 419.5,450.0 420.2,449.8 421.0,449.6 421.8,449.5 422.6,449.5 423.5,449.6 424.2,449.7 425.0,450.0 425.6,450.3 426.2,450.6 426.7,451.0 427.0,451.5 427.3,452.0" />
<polyline fill="none" stroke="#bec560" stroke-width="1.0" stroke-linejoin="round" stroke-linecap="round" points="417.3,452.6 417.4,452.1 417.6,451.6 417.9,451.2 418.3,450.8 418.8,450.4 419.5,450.1 420.2,449.9 420.9,449.7 421.7,449.6 422.5,449.6 423.3,449.7 424.0,449.8 424.8,450.0 425.4,450.3 426.0,450.7 426.4,451.1 426.8,451.5 427.0,452.0" />
<polyline fill="none" stroke="#adb744" stroke-width="1.0" stroke-linejoin="round" stroke-linecap="round" points="417.3,452.6 417.4,452.1 417.6,451.7 417.9,451.2 418.3,450.8 418.8,450.5 419.4,450.2 420.1,450.0 420.8,449.8 421.6,449.7 422.3,449.7 423.1,449.8 423.8,449.9 424.5,450.1 425.2,450.4 425.7,450.8 426.1,451.1 426.5,451.6 426.7,452.0" />
<polyline fill="none" stroke="#879600" stroke-width="1.0" stroke-linejoin="round" stroke-linecap="round" points="417.3,452.6 417.4,452.1 417.5,451.7 417.8,451.3 418.2,450.9 418.8,450.6 419.3,450.3 420.0,450.1 420.7,449.9 421.4,449.8 422.2,449.8 422.9,449.9 423.6,450.0 424.3,450.2 424.9,450.5 425.4,450.8 425.9,451.2 426.2,451.6 426.4,452.0" />
<line x1="416.3" y1="439.3" x2="427.8" y2="431.0" stroke="#555" stroke-width="0.4"/>
<line x1="430.5" y1="439.3" x2="458.8" y2="431.0" stroke="#555" stroke-width="0.45" stroke-dasharray="1.3,0.9"/>
<rect x="416.3" y="439.3" width="14.2" height="13.7" fill="none" stroke="#777" stroke-width="0.5"/>
<rect x="427.8" y="399.4" width="31.0" height="31.6" fill="#fff"/>
<line x1="443.3" y1="399.4" x2="443.3" y2="431.0" stroke="#d8d8d8" stroke-width="0.45"/>
<line x1="427.8" y1="403.2" x2="458.8" y2="403.2" stroke="#d8d8d8" stroke-width="0.45"/>
<line x1="427.8" y1="409.6" x2="458.8" y2="409.6" stroke="#d8d8d8" stroke-width="0.45"/>
<line x1="427.8" y1="416.2" x2="458.8" y2="416.2" stroke="#d8d8d8" stroke-width="0.45"/>
<line x1="427.8" y1="423.2" x2="458.8" y2="423.2" stroke="#d8d8d8" stroke-width="0.45"/>
<text x="426.8" y="404.2" font-size="3.19" font-family="Liberation Serif" fill="#444" text-anchor="end" >80</text>
<text x="426.8" y="410.6" font-size="3.19" font-family="Liberation Serif" fill="#444" text-anchor="end" >60</text>
<text x="426.8" y="417.2" font-size="3.19" font-family="Liberation Serif" fill="#444" text-anchor="end" >40</text>
<text x="426.8" y="424.2" font-size="3.19" font-family="Liberation Serif" fill="#444" text-anchor="end" >20</text>
<text x="426.8" y="430.6" font-size="3.19" font-family="Liberation Serif" fill="#444" text-anchor="end" >0</text>
<text x="429.1" y="434.3" font-size="3.19" font-family="Liberation Serif" fill="#444" text-anchor="middle" >0</text>
<text x="443.3" y="434.3" font-size="3.19" font-family="Liberation Serif" fill="#444" text-anchor="middle" >50</text>
<text x="455.8" y="434.3" font-size="3.19" font-family="Liberation Serif" fill="#444" text-anchor="middle" >100</text>
<clipPath id="cb"><rect x="427.8" y="399.4" width="31.0" height="31.6"/></clipPath>
<g clip-path="url(#cb)">
<polyline fill="none" stroke="#ebebaa" stroke-width="1.2" stroke-linejoin="round" stroke-linecap="round" points="431.6,429.8 431.7,428.7 432.1,427.6 432.6,426.6 433.4,425.7 434.3,424.8 435.4,424.1 436.7,423.5 438.0,423.1 439.4,422.9 440.9,422.8 442.3,422.9 443.7,423.2 445.1,423.6 446.3,424.2 447.4,424.9 448.3,425.8 449.1,426.7 449.6,427.7" />
<polyline fill="none" stroke="#e7e7a3" stroke-width="1.2999999999999998" stroke-linejoin="round" stroke-linecap="round" points="431.4,429.8 431.5,428.8 431.8,427.8 432.3,426.9 433.0,426.0 433.9,425.3 434.9,424.6 436.1,424.1 437.3,423.7 438.6,423.5 440.0,423.4 441.3,423.5 442.6,423.8 443.9,424.1 445.0,424.7 446.0,425.3 446.9,426.1 447.6,427.0 448.1,427.9" />
<polyline fill="none" stroke="#e2e39b" stroke-width="1.4" stroke-linejoin="round" stroke-linecap="round" points="431.1,429.8 431.2,428.9 431.5,428.0 432.0,427.2 432.6,426.4 433.4,425.7 434.4,425.1 435.5,424.7 436.6,424.3 437.8,424.1 439.1,424.1 440.3,424.1 441.5,424.3 442.7,424.7 443.7,425.2 444.7,425.8 445.4,426.5 446.1,427.3 446.5,428.1" />
<polyline fill="none" stroke="#dddf93" stroke-width="1.5" stroke-linejoin="round" stroke-linecap="round" points="430.9,429.8 430.9,429.0 431.2,428.2 431.6,427.5 432.2,426.8 433.0,426.2 433.9,425.6 434.8,425.2 435.9,424.9 437.0,424.7 438.2,424.7 439.3,424.7 440.4,424.9 441.5,425.3 442.4,425.7 443.3,426.2 444.0,426.8 444.6,427.5 445.0,428.3" />
<polyline fill="none" stroke="#d8db8a" stroke-width="1.6" stroke-linejoin="round" stroke-linecap="round" points="430.6,429.8 430.7,429.1 430.9,428.4 431.3,427.7 431.9,427.1 432.6,426.6 433.3,426.1 434.2,425.8 435.2,425.5 436.2,425.4 437.3,425.3 438.3,425.4 439.3,425.5 440.3,425.8 441.1,426.2 441.9,426.7 442.6,427.2 443.1,427.8 443.5,428.5" />
<polyline fill="none" stroke="#d1d57e" stroke-width="1.7" stroke-linejoin="round" stroke-linecap="round" points="430.4,429.8 430.4,429.2 430.6,428.6 431.0,428.0 431.5,427.5 432.1,427.0 432.8,426.7 433.6,426.3 434.5,426.1 435.4,426.0 436.3,425.9 437.3,426.0 438.2,426.1 439.1,426.4 439.9,426.7 440.6,427.1 441.2,427.6 441.6,428.1 442.0,428.7" />
<polyline fill="none" stroke="#c8ce70" stroke-width="1.8" stroke-linejoin="round" stroke-linecap="round" points="430.1,429.8 430.2,429.3 430.4,428.8 430.7,428.3 431.1,427.9 431.7,427.5 432.3,427.2 433.0,426.9 433.8,426.7 434.6,426.6 435.4,426.6 436.3,426.6 437.1,426.7 437.9,426.9 438.6,427.2 439.2,427.5 439.7,427.9 440.2,428.4 440.5,428.8" />
<polyline fill="none" stroke="#bcc35b" stroke-width="1.9" stroke-linejoin="round" stroke-linecap="round" points="429.9,429.8 429.9,429.4 430.1,429.0 430.4,428.6 430.7,428.3 431.2,427.9 431.8,427.7 432.4,427.5 433.1,427.3 433.8,427.2 434.5,427.2 435.3,427.2 436.0,427.3 436.7,427.5 437.3,427.7 437.8,428.0 438.3,428.3 438.7,428.6 438.9,429.0" />
<polyline fill="none" stroke="#879600" stroke-width="2.0" stroke-linejoin="round" stroke-linecap="round" points="429.6,429.8 429.6,429.5 429.8,429.2 430.0,428.9 430.4,428.6 430.8,428.4 431.3,428.2 431.8,428.0 432.4,427.9 433.0,427.8 433.6,427.8 434.3,427.8 434.9,427.9 435.5,428.0 436.0,428.2 436.5,428.4 436.9,428.6 437.2,428.9 437.4,429.2" />
</g>
<rect x="427.8" y="399.4" width="31.0" height="31.6" fill="none" stroke="#111" stroke-width="0.9"/>
<polyline fill="none" stroke="#cfe2f7" stroke-width="0.8" stroke-linejoin="round" stroke-linecap="round" points="486.0,452.6 486.3,450.5 487.1,448.4 488.5,446.4 490.4,444.6 492.8,442.9 495.6,441.5 498.7,440.3 502.2,439.4 505.8,438.8 509.6,438.4 513.4,438.4 517.2,438.8 520.8,439.4 524.2,440.3 527.4,441.5 530.2,442.9 532.6,444.6 534.5,446.4" />
<polyline fill="none" stroke="#b5d2f2" stroke-width="0.9" stroke-linejoin="round" stroke-linecap="round" points="485.0,452.6 485.1,451.7 485.4,450.9 486.0,450.0 486.7,449.3 487.7,448.6 488.7,448.1 490.0,447.6 491.3,447.3 492.7,447.1 494.1,447.0 495.5,447.1 496.9,447.3 498.2,447.6 499.4,448.1 500.4,448.7 501.3,449.4 502.1,450.1 502.6,450.9" />
<polyline fill="none" stroke="#90bcea" stroke-width="0.9" stroke-linejoin="round" stroke-linecap="round" points="484.3,452.6 484.4,451.8 484.7,451.1 485.2,450.4 485.8,449.7 486.6,449.1 487.5,448.6 488.6,448.2 489.7,447.9 490.9,447.8 492.2,447.7 493.4,447.8 494.6,448.0 495.7,448.3 496.8,448.7 497.7,449.2 498.5,449.8 499.1,450.4 499.6,451.2" />
<polyline fill="none" stroke="#6aa3e2" stroke-width="1.0" stroke-linejoin="round" stroke-linecap="round" points="483.8,452.6 483.9,451.9 484.1,451.2 484.6,450.6 485.1,450.0 485.9,449.5 486.7,449.0 487.7,448.7 488.7,448.4 489.8,448.2 490.9,448.2 492.0,448.3 493.0,448.4 494.0,448.7 495.0,449.1 495.8,449.5 496.5,450.1 497.1,450.7 497.5,451.3" />
<polyline fill="none" stroke="#3b82d2" stroke-width="1.1" stroke-linejoin="round" stroke-linecap="round" points="483.4,452.6 483.5,452.0 483.7,451.3 484.1,450.7 484.7,450.2 485.3,449.7 486.1,449.3 487.0,449.0 487.9,448.8 488.9,448.6 489.9,448.6 490.9,448.7 491.9,448.9 492.8,449.1 493.7,449.5 494.4,449.9 495.0,450.4 495.5,451.0 495.8,451.6" />
<polyline fill="none" stroke="#1d67c0" stroke-width="1.3" stroke-linejoin="round" stroke-linecap="round" points="483.0,452.6 483.1,452.0 483.3,451.5 483.7,450.9 484.2,450.4 484.9,450.0 485.6,449.7 486.4,449.4 487.3,449.2 488.3,449.1 489.2,449.1 490.2,449.2 491.0,449.4 491.9,449.7 492.6,450.1 493.2,450.5 493.7,451.0 494.1,451.5 494.3,452.1" />
<polyline fill="none" stroke="#0b55ad" stroke-width="1.5" stroke-linejoin="round" stroke-linecap="round" points="482.7,452.6 482.8,452.1 483.0,451.5 483.4,451.0 483.9,450.6 484.5,450.2 485.2,449.9 486.1,449.6 486.9,449.5 487.8,449.4 488.7,449.4 489.6,449.5 490.5,449.7 491.3,450.0 492.0,450.4 492.5,450.8 493.0,451.2 493.3,451.7 493.5,452.3" />
<line x1="482.0" y1="439.3" x2="492.5" y2="431.3" stroke="#555" stroke-width="0.4"/>
<line x1="495.6" y1="439.3" x2="523.7" y2="431.3" stroke="#555" stroke-width="0.45" stroke-dasharray="1.3,0.9"/>
<rect x="482.0" y="439.3" width="13.6" height="13.5" fill="none" stroke="#777" stroke-width="0.5"/>
<rect x="492.5" y="399.4" width="31.2" height="31.9" fill="#fff"/>
<line x1="508.1" y1="399.4" x2="508.1" y2="431.3" stroke="#d8d8d8" stroke-width="0.45"/>
<line x1="492.5" y1="403.2" x2="523.7" y2="403.2" stroke="#d8d8d8" stroke-width="0.45"/>
<line x1="492.5" y1="409.6" x2="523.7" y2="409.6" stroke="#d8d8d8" stroke-width="0.45"/>
<line x1="492.5" y1="416.2" x2="523.7" y2="416.2" stroke="#d8d8d8" stroke-width="0.45"/>
<line x1="492.5" y1="423.2" x2="523.7" y2="423.2" stroke="#d8d8d8" stroke-width="0.45"/>
<text x="491.5" y="404.2" font-size="3.19" font-family="Liberation Serif" fill="#444" text-anchor="end" >80</text>
<text x="491.5" y="410.6" font-size="3.19" font-family="Liberation Serif" fill="#444" text-anchor="end" >60</text>
<text x="491.5" y="417.2" font-size="3.19" font-family="Liberation Serif" fill="#444" text-anchor="end" >40</text>
<text x="491.5" y="424.2" font-size="3.19" font-family="Liberation Serif" fill="#444" text-anchor="end" >20</text>
<text x="491.5" y="430.6" font-size="3.19" font-family="Liberation Serif" fill="#444" text-anchor="end" >0</text>
<text x="493.8" y="434.6" font-size="3.19" font-family="Liberation Serif" fill="#444" text-anchor="middle" >0</text>
<text x="508.1" y="434.6" font-size="3.19" font-family="Liberation Serif" fill="#444" text-anchor="middle" >50</text>
<text x="520.7" y="434.6" font-size="3.19" font-family="Liberation Serif" fill="#444" text-anchor="middle" >100</text>
<clipPath id="cc"><rect x="492.5" y="399.4" width="31.2" height="31.9"/></clipPath>
<g clip-path="url(#cc)">
<path d="M500,424 Q512,408 530,404" fill="none" stroke="#c6dcf5" stroke-width="0.9"/>
<path d="M500,424 Q512,419 530,415" fill="none" stroke="#bcd6f3" stroke-width="0.9"/>
<path d="M500,424 Q512,428 530,424" fill="none" stroke="#a9cbef" stroke-width="0.9"/>
<polyline fill="none" stroke="#cde1f7" stroke-width="1.0" stroke-linejoin="round" stroke-linecap="round" points="494.8,430.8 495.0,429.2 495.6,427.7 496.5,426.2 497.8,424.9 499.4,423.7 501.3,422.7 503.4,422.0 505.6,421.5 507.9,421.2 510.3,421.2 512.6,421.5 514.8,422.0 516.9,422.8 518.7,423.8 520.3,425.0 521.6,426.3 522.5,427.8 523.0,429.4" />
<polyline fill="none" stroke="#c0d7f2" stroke-width="1.088888888888889" stroke-linejoin="round" stroke-linecap="round" points="494.8,430.8 494.9,429.2 495.5,427.7 496.4,426.3 497.7,425.0 499.2,423.8 501.0,422.9 503.1,422.1 505.2,421.6 507.5,421.4 509.8,421.4 512.0,421.6 514.2,422.1 516.2,422.9 518.0,423.8 519.6,425.0 520.8,426.3 521.8,427.7 522.3,429.2" />
<polyline fill="none" stroke="#b2ceed" stroke-width="1.1777777777777778" stroke-linejoin="round" stroke-linecap="round" points="494.7,430.8 494.9,429.3 495.4,427.8 496.3,426.4 497.5,425.1 499.0,424.0 500.8,423.0 502.7,422.3 504.8,421.8 507.0,421.5 509.3,421.5 511.4,421.7 513.6,422.2 515.5,422.9 517.3,423.8 518.8,425.0 520.1,426.2 521.0,427.6 521.6,429.1" />
<polyline fill="none" stroke="#a3c3e8" stroke-width="1.2666666666666666" stroke-linejoin="round" stroke-linecap="round" points="494.7,430.8 494.8,429.3 495.4,427.8 496.2,426.5 497.4,425.2 498.8,424.1 500.5,423.2 502.4,422.4 504.5,421.9 506.6,421.6 508.7,421.6 510.9,421.8 512.9,422.3 514.9,423.0 516.6,423.9 518.1,424.9 519.3,426.2 520.3,427.5 520.9,429.0" />
<polyline fill="none" stroke="#94b8e3" stroke-width="1.3555555555555556" stroke-linejoin="round" stroke-linecap="round" points="494.6,430.8 494.8,429.3 495.3,427.9 496.1,426.6 497.3,425.3 498.7,424.2 500.3,423.3 502.1,422.6 504.1,422.1 506.1,421.8 508.2,421.7 510.3,421.9 512.3,422.4 514.2,423.0 515.9,423.9 517.4,424.9 518.6,426.1 519.5,427.4 520.1,428.9" />
<polyline fill="none" stroke="#83acdd" stroke-width="1.4444444444444444" stroke-linejoin="round" stroke-linecap="round" points="494.6,430.8 494.7,429.4 495.2,428.0 496.0,426.6 497.1,425.4 498.5,424.3 500.0,423.4 501.8,422.7 503.7,422.2 505.7,421.9 507.7,421.9 509.7,422.1 511.7,422.5 513.5,423.1 515.2,423.9 516.6,424.9 517.9,426.1 518.8,427.4 519.4,428.7" />
<polyline fill="none" stroke="#719fd6" stroke-width="1.5333333333333334" stroke-linejoin="round" stroke-linecap="round" points="494.5,430.8 494.7,429.4 495.2,428.0 495.9,426.7 497.0,425.5 498.3,424.5 499.8,423.6 501.5,422.9 503.3,422.4 505.3,422.1 507.2,422.0 509.2,422.2 511.1,422.6 512.9,423.2 514.5,423.9 515.9,424.9 517.1,426.0 518.0,427.3 518.7,428.6" />
<polyline fill="none" stroke="#5c90cf" stroke-width="1.6222222222222222" stroke-linejoin="round" stroke-linecap="round" points="494.5,430.8 494.6,429.4 495.1,428.1 495.8,426.8 496.8,425.6 498.1,424.6 499.6,423.7 501.2,423.0 503.0,422.5 504.8,422.2 506.7,422.1 508.6,422.3 510.5,422.6 512.2,423.2 513.8,424.0 515.2,424.9 516.4,426.0 517.3,427.2 518.0,428.5" />
<polyline fill="none" stroke="#417ec5" stroke-width="1.7111111111111112" stroke-linejoin="round" stroke-linecap="round" points="494.4,430.8 494.6,429.5 495.0,428.1 495.7,426.9 496.7,425.7 497.9,424.7 499.3,423.8 500.9,423.2 502.6,422.6 504.4,422.4 506.3,422.3 508.1,422.4 509.9,422.7 511.6,423.3 513.1,424.0 514.5,424.9 515.7,426.0 516.6,427.1 517.2,428.4" />
<polyline fill="none" stroke="#0f5ab4" stroke-width="1.8" stroke-linejoin="round" stroke-linecap="round" points="494.4,430.8 494.5,429.5 495.0,428.2 495.6,427.0 496.6,425.8 497.7,424.8 499.1,424.0 500.6,423.3 502.3,422.8 504.0,422.5 505.8,422.4 507.6,422.5 509.3,422.8 510.9,423.4 512.4,424.1 513.8,424.9 514.9,425.9 515.8,427.1 516.5,428.3" />
</g>
<rect x="492.5" y="399.4" width="31.2" height="31.9" fill="none" stroke="#111" stroke-width="0.9"/>
<rect x="547.3" y="391.40" width="4.7" height="6.5" fill="#000000"/>
<rect x="547.3" y="397.78" width="4.7" height="6.5" fill="#171717"/>
<rect x="547.3" y="404.16" width="4.7" height="6.5" fill="#2f2f2f"/>
<rect x="547.3" y="410.54" width="4.7" height="6.5" fill="#474747"/>
<rect x="547.3" y="416.92" width="4.7" height="6.5" fill="#5f5f5f"/>
<rect x="547.3" y="423.30" width="4.7" height="6.5" fill="#777777"/>
<rect x="547.3" y="429.68" width="4.7" height="6.5" fill="#8f8f8f"/>
<rect x="547.3" y="436.06" width="4.7" height="6.5" fill="#a7a7a7"/>
<rect x="547.3" y="442.44" width="4.7" height="6.5" fill="#bfbfbf"/>
<rect x="547.3" y="448.82" width="4.7" height="6.5" fill="#d7d7d7"/>
<rect x="547.3" y="391.4" width="4.7" height="63.8" fill="none" stroke="#777" stroke-width="0.3"/>
<text x="555.2" y="398.5" font-size="2.96" font-family="Liberation Serif" fill="#333" text-anchor="middle" >1</text>
<text x="555.2" y="404.9" font-size="2.96" font-family="Liberation Serif" fill="#333" text-anchor="middle" >0.9</text>
<text x="555.2" y="411.2" font-size="2.96" font-family="Liberation Serif" fill="#333" text-anchor="middle" >0.8</text>
<text x="555.2" y="417.6" font-size="2.96" font-family="Liberation Serif" fill="#333" text-anchor="middle" >0.7</text>
<text x="555.2" y="424.0" font-size="2.96" font-family="Liberation Serif" fill="#333" text-anchor="middle" >0.6</text>
<text x="555.2" y="430.4" font-size="2.96" font-family="Liberation Serif" fill="#333" text-anchor="middle" >0.5</text>
<text x="555.2" y="436.8" font-size="2.96" font-family="Liberation Serif" fill="#333" text-anchor="middle" >0.4</text>
<text x="555.2" y="443.2" font-size="2.96" font-family="Liberation Serif" fill="#333" text-anchor="middle" >0.3</text>
<text x="555.2" y="449.5" font-size="2.96" font-family="Liberation Serif" fill="#333" text-anchor="middle" >0.2</text>
<text x="0" y="0" font-size="3.6" font-family="Liberation Serif" fill="#555" text-anchor="middle" transform="translate(559.8,423) rotate(-90)">SOC / -</text>
<rect x="398.4" y="469.0" width="96.9" height="4.6" fill="#fff" stroke="#222" stroke-width="0.6"/>
<line x1="400.4" y1="471.3" x2="411.4" y2="471.3" stroke="#111" stroke-width="1.1"/>
<text x="412.4" y="472.4" font-size="3.88" font-family="Liberation Serif" fill="#333" text-anchor="start" >T-cell</text>
<line x1="424.6" y1="471.3" x2="435.6" y2="471.3" stroke="#A8A81A" stroke-width="1.1"/>
<text x="436.6" y="472.4" font-size="3.88" font-family="Liberation Serif" fill="#333" text-anchor="start" >Cathode</text>
<line x1="448.9" y1="471.3" x2="459.9" y2="471.3" stroke="#1f6fc5" stroke-width="1.1"/>
<text x="460.9" y="472.4" font-size="3.88" font-family="Liberation Serif" fill="#333" text-anchor="start" >Anode</text>
<path d="M473.1,473.0 L485.1,469.8" stroke="#111" stroke-width="1.3"/>
<text x="486.1" y="472.4" font-size="3.88" font-family="Liberation Serif" fill="#333" text-anchor="start" >SOC</text>
<line x1="101.2" y1="296.5" x2="101.2" y2="367.3" stroke="#d2d2d2" stroke-width="0.5"/>
<line x1="121.6" y1="296.5" x2="121.6" y2="367.3" stroke="#d2d2d2" stroke-width="0.5"/>
<line x1="142.0" y1="296.5" x2="142.0" y2="367.3" stroke="#d2d2d2" stroke-width="0.5"/>
<line x1="162.5" y1="296.5" x2="162.5" y2="367.3" stroke="#d2d2d2" stroke-width="0.5"/>
<line x1="182.9" y1="296.5" x2="182.9" y2="367.3" stroke="#d2d2d2" stroke-width="0.5"/>
<line x1="203.3" y1="296.5" x2="203.3" y2="367.3" stroke="#d2d2d2" stroke-width="0.5"/>
<line x1="101.2" y1="357.5" x2="203.3" y2="357.5" stroke="#d2d2d2" stroke-width="0.5"/>
<line x1="101.2" y1="347.7" x2="203.3" y2="347.7" stroke="#d2d2d2" stroke-width="0.5"/>
<line x1="101.2" y1="337.9" x2="203.3" y2="337.9" stroke="#d2d2d2" stroke-width="0.5"/>
<line x1="101.2" y1="328.0" x2="203.3" y2="328.0" stroke="#d2d2d2" stroke-width="0.5"/>
<line x1="101.2" y1="318.2" x2="203.3" y2="318.2" stroke="#d2d2d2" stroke-width="0.5"/>
<line x1="101.2" y1="308.4" x2="203.3" y2="308.4" stroke="#d2d2d2" stroke-width="0.5"/>
<line x1="101.2" y1="298.6" x2="203.3" y2="298.6" stroke="#d2d2d2" stroke-width="0.5"/>
<rect x="101.2" y="296.5" width="102.1" height="70.8" fill="none" stroke="#333" stroke-width="0.7"/>
<text x="101.2" y="372.3" font-size="4.10" font-family="Liberation Serif" fill="#333" text-anchor="middle" >0</text>
<text x="121.6" y="372.3" font-size="4.10" font-family="Liberation Serif" fill="#333" text-anchor="middle" >0.2</text>
<text x="142.0" y="372.3" font-size="4.10" font-family="Liberation Serif" fill="#333" text-anchor="middle" >0.4</text>
<text x="162.5" y="372.3" font-size="4.10" font-family="Liberation Serif" fill="#333" text-anchor="middle" >0.6</text>
<text x="182.9" y="372.3" font-size="4.10" font-family="Liberation Serif" fill="#333" text-anchor="middle" >0.8</text>
<text x="203.3" y="372.3" font-size="4.10" font-family="Liberation Serif" fill="#333" text-anchor="middle" >1</text>
<text x="99.0" y="368.6" font-size="3.88" font-family="Liberation Serif" fill="#333" text-anchor="end" >0</text>
<text x="99.0" y="358.8" font-size="3.88" font-family="Liberation Serif" fill="#333" text-anchor="end" >20</text>
<text x="99.0" y="349.0" font-size="3.88" font-family="Liberation Serif" fill="#333" text-anchor="end" >40</text>
<text x="99.0" y="339.2" font-size="3.88" font-family="Liberation Serif" fill="#333" text-anchor="end" >60</text>
<text x="99.0" y="329.3" font-size="3.88" font-family="Liberation Serif" fill="#333" text-anchor="end" >80</text>
<text x="99.0" y="319.5" font-size="3.88" font-family="Liberation Serif" fill="#333" text-anchor="end" >100</text>
<text x="99.0" y="309.7" font-size="3.88" font-family="Liberation Serif" fill="#333" text-anchor="end" >120</text>
<text x="99.0" y="299.9" font-size="3.88" font-family="Liberation Serif" fill="#333" text-anchor="end" >140</text>
<text x="150.0" y="377.4" font-size="4.33" font-family="Liberation Serif" fill="#333" text-anchor="middle" >SOC / -</text>
<text x="0" y="0" font-size="4.0" font-family="Liberation Serif" fill="#555" text-anchor="middle" transform="translate(90.8,325) rotate(-90)">R&#8320;&#8320; / &#937;&#183;cm&#178;</text>
<text x="103.8" y="303.0" font-size="3.88" font-family="Liberation Serif" fill="#333" text-anchor="start" >a)</text>
<line x1="111" y1="299.5" x2="111" y2="310" stroke="#111" stroke-width="0.6"/>
<line x1="121.6" y1="325" x2="121.6" y2="330" stroke="#111" stroke-width="0.6"/>
<polyline fill="none" stroke="#111" stroke-width="1.3" stroke-linejoin="round" stroke-linecap="round" points="111.0,304.7 121.6,327.4 131.9,337.7 141.9,340.6 152.1,341.9 162.1,341.9 172.4,343.7 182.4,343.2 192.9,343.4" stroke-dasharray="0.1,1.9"/>
<polyline fill="none" stroke="#E8782A" stroke-width="1.3" stroke-linejoin="round" stroke-linecap="round" points="111.0,316.0 121.6,331.0 131.9,336.5 141.9,338.8 152.1,339.5 162.1,340.0 172.4,340.6 182.4,341.4 192.9,341.5" stroke-dasharray="0.1,1.9"/>
<polyline fill="none" stroke="#E8782A" stroke-width="1.2" stroke-linejoin="round" stroke-linecap="round" points="111.0,331.0 121.6,338.8 131.9,341.9 141.9,343.4 152.1,344.6 162.1,345.5 172.4,345.5 182.4,345.5 192.9,345.5" />
<polyline fill="none" stroke="#111" stroke-width="1.2" stroke-linejoin="round" stroke-linecap="round" points="111.0,332.0 121.6,341.0 131.9,344.3 141.9,345.5 152.1,346.5 162.1,346.5 172.4,347.9 182.4,347.9 192.9,349.7" />
<circle cx="111.0" cy="304.7" r="1.8" fill="#111"/>
<circle cx="121.6" cy="327.4" r="1.8" fill="#111"/>
<circle cx="131.9" cy="337.7" r="1.8" fill="#111"/>
<circle cx="141.9" cy="340.6" r="1.8" fill="#111"/>
<circle cx="152.1" cy="341.9" r="1.8" fill="#111"/>
<circle cx="162.1" cy="341.9" r="1.8" fill="#111"/>
<circle cx="172.4" cy="343.7" r="1.8" fill="#111"/>
<circle cx="182.4" cy="343.2" r="1.8" fill="#111"/>
<circle cx="192.9" cy="343.4" r="1.8" fill="#111"/>
<circle cx="111.0" cy="316.0" r="1.8" fill="#E8782A"/>
<circle cx="121.6" cy="331.0" r="1.8" fill="#E8782A"/>
<circle cx="131.9" cy="336.5" r="1.8" fill="#E8782A"/>
<circle cx="141.9" cy="338.8" r="1.8" fill="#E8782A"/>
<circle cx="152.1" cy="339.5" r="1.8" fill="#E8782A"/>
<circle cx="162.1" cy="340.0" r="1.8" fill="#E8782A"/>
<circle cx="172.4" cy="340.6" r="1.8" fill="#E8782A"/>
<circle cx="182.4" cy="341.4" r="1.8" fill="#E8782A"/>
<circle cx="192.9" cy="341.5" r="1.8" fill="#E8782A"/>
<circle cx="111.0" cy="331.0" r="1.8" fill="#E8782A"/>
<circle cx="121.6" cy="338.8" r="1.8" fill="#E8782A"/>
<circle cx="131.9" cy="341.9" r="1.8" fill="#E8782A"/>
<circle cx="141.9" cy="343.4" r="1.8" fill="#E8782A"/>
<circle cx="152.1" cy="344.6" r="1.8" fill="#E8782A"/>
<circle cx="162.1" cy="345.5" r="1.8" fill="#E8782A"/>
<circle cx="172.4" cy="345.5" r="1.8" fill="#E8782A"/>
<circle cx="182.4" cy="345.5" r="1.8" fill="#E8782A"/>
<circle cx="192.9" cy="345.5" r="1.8" fill="#E8782A"/>
<circle cx="111.0" cy="332.0" r="1.8" fill="#111"/>
<circle cx="121.6" cy="341.0" r="1.8" fill="#111"/>
<circle cx="131.9" cy="344.3" r="1.8" fill="#111"/>
<circle cx="141.9" cy="345.5" r="1.8" fill="#111"/>
<circle cx="152.1" cy="346.5" r="1.8" fill="#111"/>
<circle cx="162.1" cy="346.5" r="1.8" fill="#111"/>
<circle cx="172.4" cy="347.9" r="1.8" fill="#111"/>
<circle cx="182.4" cy="347.9" r="1.8" fill="#111"/>
<circle cx="192.9" cy="349.7" r="1.8" fill="#111"/>
<line x1="107.4" y1="379.7" x2="107.4" y2="451.2" stroke="#d2d2d2" stroke-width="0.5"/>
<line x1="136.2" y1="379.7" x2="136.2" y2="451.2" stroke="#d2d2d2" stroke-width="0.5"/>
<line x1="165.0" y1="379.7" x2="165.0" y2="451.2" stroke="#d2d2d2" stroke-width="0.5"/>
<line x1="193.8" y1="379.7" x2="193.8" y2="451.2" stroke="#d2d2d2" stroke-width="0.5"/>
<line x1="101.6" y1="391.6" x2="203.6" y2="391.6" stroke="#d2d2d2" stroke-width="0.5"/>
<line x1="101.6" y1="405.8" x2="203.6" y2="405.8" stroke="#d2d2d2" stroke-width="0.5"/>
<line x1="101.6" y1="419.9" x2="203.6" y2="419.9" stroke="#d2d2d2" stroke-width="0.5"/>
<line x1="101.6" y1="434.2" x2="203.6" y2="434.2" stroke="#d2d2d2" stroke-width="0.5"/>
<line x1="101.6" y1="448.9" x2="203.6" y2="448.9" stroke="#d2d2d2" stroke-width="0.5"/>
<rect x="101.6" y="379.7" width="102.0" height="71.5" fill="none" stroke="#333" stroke-width="0.7"/>
<line x1="203.6" y1="379.7" x2="203.6" y2="451.2" stroke="#a020f0" stroke-width="0.8"/>
<text x="107.4" y="456.2" font-size="4.10" font-family="Liberation Serif" fill="#333" text-anchor="middle" >0</text>
<text x="136.2" y="456.2" font-size="4.10" font-family="Liberation Serif" fill="#333" text-anchor="middle" >0.5</text>
<text x="165.0" y="456.2" font-size="4.10" font-family="Liberation Serif" fill="#333" text-anchor="middle" >1</text>
<text x="193.8" y="456.2" font-size="4.10" font-family="Liberation Serif" fill="#333" text-anchor="middle" >1.5</text>
<text x="99.5" y="392.9" font-size="3.88" font-family="Liberation Serif" fill="#333" text-anchor="end" >3.5</text>
<text x="99.5" y="407.1" font-size="3.88" font-family="Liberation Serif" fill="#333" text-anchor="end" >3</text>
<text x="99.5" y="421.2" font-size="3.88" font-family="Liberation Serif" fill="#333" text-anchor="end" >2.5</text>
<text x="99.5" y="435.5" font-size="3.88" font-family="Liberation Serif" fill="#333" text-anchor="end" >2</text>
<text x="99.5" y="450.2" font-size="3.88" font-family="Liberation Serif" fill="#333" text-anchor="end" >1.5</text>
<text x="206.3" y="392.9" font-size="3.88" font-family="Liberation Serif" fill="#a020f0" text-anchor="middle" >4</text>
<line x1="202.29999999999998" y1="391.6" x2="203.6" y2="391.6" stroke="#a020f0" stroke-width="0.6"/>
<text x="206.3" y="407.1" font-size="3.88" font-family="Liberation Serif" fill="#a020f0" text-anchor="middle" >3</text>
<line x1="202.29999999999998" y1="405.8" x2="203.6" y2="405.8" stroke="#a020f0" stroke-width="0.6"/>
<text x="206.3" y="421.2" font-size="3.88" font-family="Liberation Serif" fill="#a020f0" text-anchor="middle" >2</text>
<line x1="202.29999999999998" y1="419.9" x2="203.6" y2="419.9" stroke="#a020f0" stroke-width="0.6"/>
<text x="206.3" y="435.5" font-size="3.88" font-family="Liberation Serif" fill="#a020f0" text-anchor="middle" >1</text>
<line x1="202.29999999999998" y1="434.2" x2="203.6" y2="434.2" stroke="#a020f0" stroke-width="0.6"/>
<text x="206.3" y="450.2" font-size="3.88" font-family="Liberation Serif" fill="#a020f0" text-anchor="middle" >0</text>
<line x1="202.29999999999998" y1="448.9" x2="203.6" y2="448.9" stroke="#a020f0" stroke-width="0.6"/>
<text x="149.5" y="461.6" font-size="4.56" font-family="Liberation Serif" fill="#333" text-anchor="middle" ><tspan font-style='italic'>Q</tspan> / mAh/cm&#178;</text>
<text x="0" y="0" font-size="4.0" font-family="Liberation Serif" fill="#555" text-anchor="middle" transform="translate(90.8,416) rotate(-90)">U / V</text>
<text x="0" y="0" font-size="3.8" font-family="Liberation Serif" fill="#a020f0" text-anchor="middle" transform="translate(211.5,414) rotate(90)">dV/dQ / V cm&#178;/mAh</text>
<text x="103.5" y="385.0" font-size="3.65" font-family="Liberation Serif" fill="#333" text-anchor="start" >1.4</text>
<polyline fill="none" stroke="#111" stroke-width="1.0" stroke-linejoin="round" stroke-linecap="round" points="107.7,450.4 108.0,442.4 109.2,438.4 112.2,433.9 116.2,429.4 120.2,424.9 124.2,421.2 128.5,417.8 132.2,415.0 136.2,413.0 140.2,412.0 145.8,411.0 150.2,409.4 155.5,407.2 160.2,404.9 165.2,402.4 170.2,399.9 174.8,397.4 180.2,394.6 186.2,391.7 191.2,388.7 197.1,384.9" stroke-dasharray="2.2,1.2"/>
<polyline fill="none" stroke="#E8782A" stroke-width="1.0" stroke-linejoin="round" stroke-linecap="round" points="107.1,450.8 107.4,442.8 108.6,438.8 111.6,434.3 115.6,429.8 119.6,425.3 123.6,421.6 127.9,418.2 131.6,415.4 135.6,413.4 139.6,412.4 145.2,411.4 149.6,409.8 154.9,407.6 159.6,405.3 164.6,402.8 169.6,400.3 174.2,397.8 179.6,395.0 185.6,392.1 190.6,389.1 196.5,385.3" stroke-dasharray="2.2,1.2"/>
<polyline fill="none" stroke="#111" stroke-width="1.2" stroke-linejoin="round" stroke-linecap="round" points="107.5,449.5 107.8,441.5 109.0,437.5 112.0,433.0 116.0,428.5 120.0,424.0 124.0,420.3 128.3,416.9 132.0,414.1 136.0,412.1 140.0,411.1 145.6,410.1 150.0,408.5 155.3,406.3 160.0,404.0 165.0,401.5 170.0,399.0 174.6,396.5 180.0,393.7 186.0,390.8 191.0,387.8 196.9,384.0" />
<polyline fill="none" stroke="#E8782A" stroke-width="1.2" stroke-linejoin="round" stroke-linecap="round" points="107.5,449.0 107.8,441.0 109.0,437.0 112.0,432.5 116.0,428.0 120.0,423.5 124.0,419.8 128.3,416.4 132.0,413.6 136.0,411.6 140.0,410.6 145.6,409.6 150.0,408.0 155.3,405.8 160.0,403.5 165.0,401.0 170.0,398.5 174.6,396.0 180.0,393.2 186.0,390.3 191.0,387.3 196.9,383.5" />
<polyline fill="none" stroke="#E8782A" stroke-width="1.1" stroke-linejoin="round" stroke-linecap="round" points="108.5,379.8 110.0,384.3 112.0,388.7 117.0,394.8 121.5,399.8 125.5,405.8 129.3,412.8 132.0,418.8 135.0,426.3 138.0,432.8 140.9,437.0 143.0,439.6 144.8,440.3 146.8,439.6 148.6,437.9 151.5,432.8 154.4,428.3 157.5,425.3 160.2,423.3 164.0,421.9 167.9,421.5 171.5,422.3 175.6,423.5 179.5,425.6 183.4,427.3 186.5,427.5 189.2,426.3 192.0,424.1 195.0,420.6 197.3,415.7" stroke-dasharray="2.2,1.2"/>
<polyline fill="none" stroke="#111" stroke-width="1.0" stroke-linejoin="round" stroke-linecap="round" points="107.9,380.1 109.4,384.6 111.4,389.0 116.4,395.1 120.9,400.1 124.9,406.1 128.7,413.1 131.4,419.1 134.4,426.6 137.4,433.1 140.3,437.3 142.4,439.9 144.2,440.6 146.2,439.9 148.0,438.2 150.9,433.1 153.8,428.6 156.9,425.6 159.6,423.6 163.4,422.2 167.3,421.8 170.9,422.6 175.0,423.8 178.9,425.9 182.8,427.6 185.9,427.8 188.6,426.6 191.4,424.4 194.4,420.9 196.7,416.0" stroke-dasharray="2.2,1.2"/>
<polyline fill="none" stroke="#E8782A" stroke-width="1.1" stroke-linejoin="round" stroke-linecap="round" points="107.7,379.5 109.2,384.0 111.2,388.4 116.2,394.5 120.7,399.5 124.7,405.5 128.5,412.5 131.2,418.5 134.2,426.0 137.2,432.5 140.1,436.7 142.2,439.3 144.0,440.0 146.0,439.3 147.8,437.6 150.7,432.5 153.6,428.0 156.7,425.0 159.4,423.0 163.2,421.6 167.1,421.2 170.7,422.0 174.8,423.2 178.7,425.3 182.6,427.0 185.7,427.2 188.4,426.0 191.2,423.8 194.2,420.3 196.5,415.4" />
<polyline fill="none" stroke="#111" stroke-width="1.2" stroke-linejoin="round" stroke-linecap="round" points="106.9,379.5 108.4,384.0 110.4,388.4 115.4,394.5 119.9,399.5 123.9,405.5 127.7,412.5 130.4,418.5 133.4,426.0 136.4,432.5 139.3,436.7 141.4,439.3 143.2,440.0 145.2,439.3 147.0,437.6 149.9,432.5 152.8,428.0 155.9,425.0 158.6,423.0 162.4,421.6 166.3,421.2 169.9,422.0 174.0,423.2 177.9,425.3 181.8,427.0 184.9,427.2 187.6,426.0 190.4,423.8 193.4,420.3 195.7,415.4" />
<rect x="120.5" y="467.2" width="62.8" height="5.0" fill="#fff" stroke="#222" stroke-width="0.6"/>
<line x1="122.0" y1="469.7" x2="133.5" y2="469.7" stroke="#111" stroke-width="1.2"/>
<text x="134.5" y="470.9" font-size="3.88" font-family="Liberation Serif" fill="#333" text-anchor="start" >BOL T-cell</text>
<line x1="153.5" y1="469.7" x2="165.0" y2="469.7" stroke="#E8782A" stroke-width="1.2"/>
<text x="166.0" y="470.9" font-size="3.88" font-family="Liberation Serif" fill="#333" text-anchor="start" >18650 BOL</text>
<defs>
<linearGradient id="pipeV" x1="0" y1="0" x2="1" y2="0"><stop offset="0" stop-color="#8a8585"/><stop offset="0.15" stop-color="#b0b0b0"/><stop offset="0.32" stop-color="#dadada"/><stop offset="0.48" stop-color="#a39a9a"/><stop offset="0.68" stop-color="#5c4a4a"/><stop offset="1" stop-color="#3a2e2e"/></linearGradient>
<linearGradient id="pipeH" x1="0" y1="0" x2="0" y2="1"><stop offset="0" stop-color="#8a8585"/><stop offset="0.3" stop-color="#d8d8d8"/><stop offset="0.55" stop-color="#bdbdbd"/><stop offset="1" stop-color="#5d5454"/></linearGradient>
<linearGradient id="ringV" x1="0" y1="0" x2="1" y2="0"><stop offset="0" stop-color="#3e3a3a"/><stop offset="0.3" stop-color="#6d6a6a"/><stop offset="0.48" stop-color="#bdbdbd"/><stop offset="0.62" stop-color="#4a4040"/><stop offset="1" stop-color="#262020"/></linearGradient>
<linearGradient id="nutH" x1="0" y1="0" x2="0" y2="1"><stop offset="0" stop-color="#c4c4c4"/><stop offset="0.35" stop-color="#b4b2b2"/><stop offset="0.65" stop-color="#a19d9d"/><stop offset="1" stop-color="#676060"/></linearGradient>
</defs>
<rect x="257" y="365.5" width="13.0" height="12.0" fill="#4d4747" rx="3.5"/>
<rect x="265.5" y="372" width="9.0" height="13.0" fill="url(#ringV)" />
<rect x="274" y="369.5" width="14.8" height="15.9" fill="url(#nutH)" />
<rect x="274" y="369.5" width="14.8" height="3.0" fill="#cdcdcd" />
<rect x="274" y="380.5" width="14.8" height="4.9" fill="#8f8989" />
<rect x="288.5" y="372" width="3.9" height="12.0" fill="#6c6565" />
<rect x="292" y="372.8" width="8.8" height="7.6" fill="url(#pipeH)" rx="1"/>
<rect x="248.9" y="332.9" width="12.3" height="16.3" fill="url(#pipeV)" rx="1.3"/>
<rect x="242.6" y="348.8" width="22.5" height="12.0" fill="#8f8b8b" rx="0.8"/>
<rect x="242.6" y="348.8" width="9.6" height="12.0" fill="#8f8d8d" />
<rect x="252.2" y="348.8" width="11.5" height="12.0" fill="#6a4c4c" />
<rect x="253" y="350" width="10.0" height="3.5" fill="#805f5f" />
<rect x="263.7" y="348.8" width="1.4" height="12.0" fill="#5c4f4f" />
<rect x="245" y="360.8" width="17.5" height="6.7" fill="url(#ringV)" />
<rect x="242.6" y="366.8" width="15.9" height="21.5" fill="#d9d9d9" />
<rect x="258.3" y="371.7" width="8.3" height="14.3" fill="#d2d2d2" />
<rect x="242.6" y="366.8" width="1.9" height="21.5" fill="#b5b5b5" />
<rect x="258.5" y="385.5" width="8.1" height="2.8" fill="#5f5a5a" />
<rect x="246.4" y="388.2" width="16.8" height="5.7" fill="url(#ringV)" />
<rect x="242.2" y="393.4" width="24.8" height="11.8" fill="#8d8a8a" rx="0.8"/>
<rect x="248" y="393.4" width="10.6" height="11.8" fill="#c9c9c9" />
<rect x="258.6" y="393.4" width="8.4" height="11.8" fill="#8a8484" />
<rect x="248.5" y="405.2" width="11.8" height="16.4" fill="url(#pipeV)" rx="1.3"/>
</svg>
</body></html>
